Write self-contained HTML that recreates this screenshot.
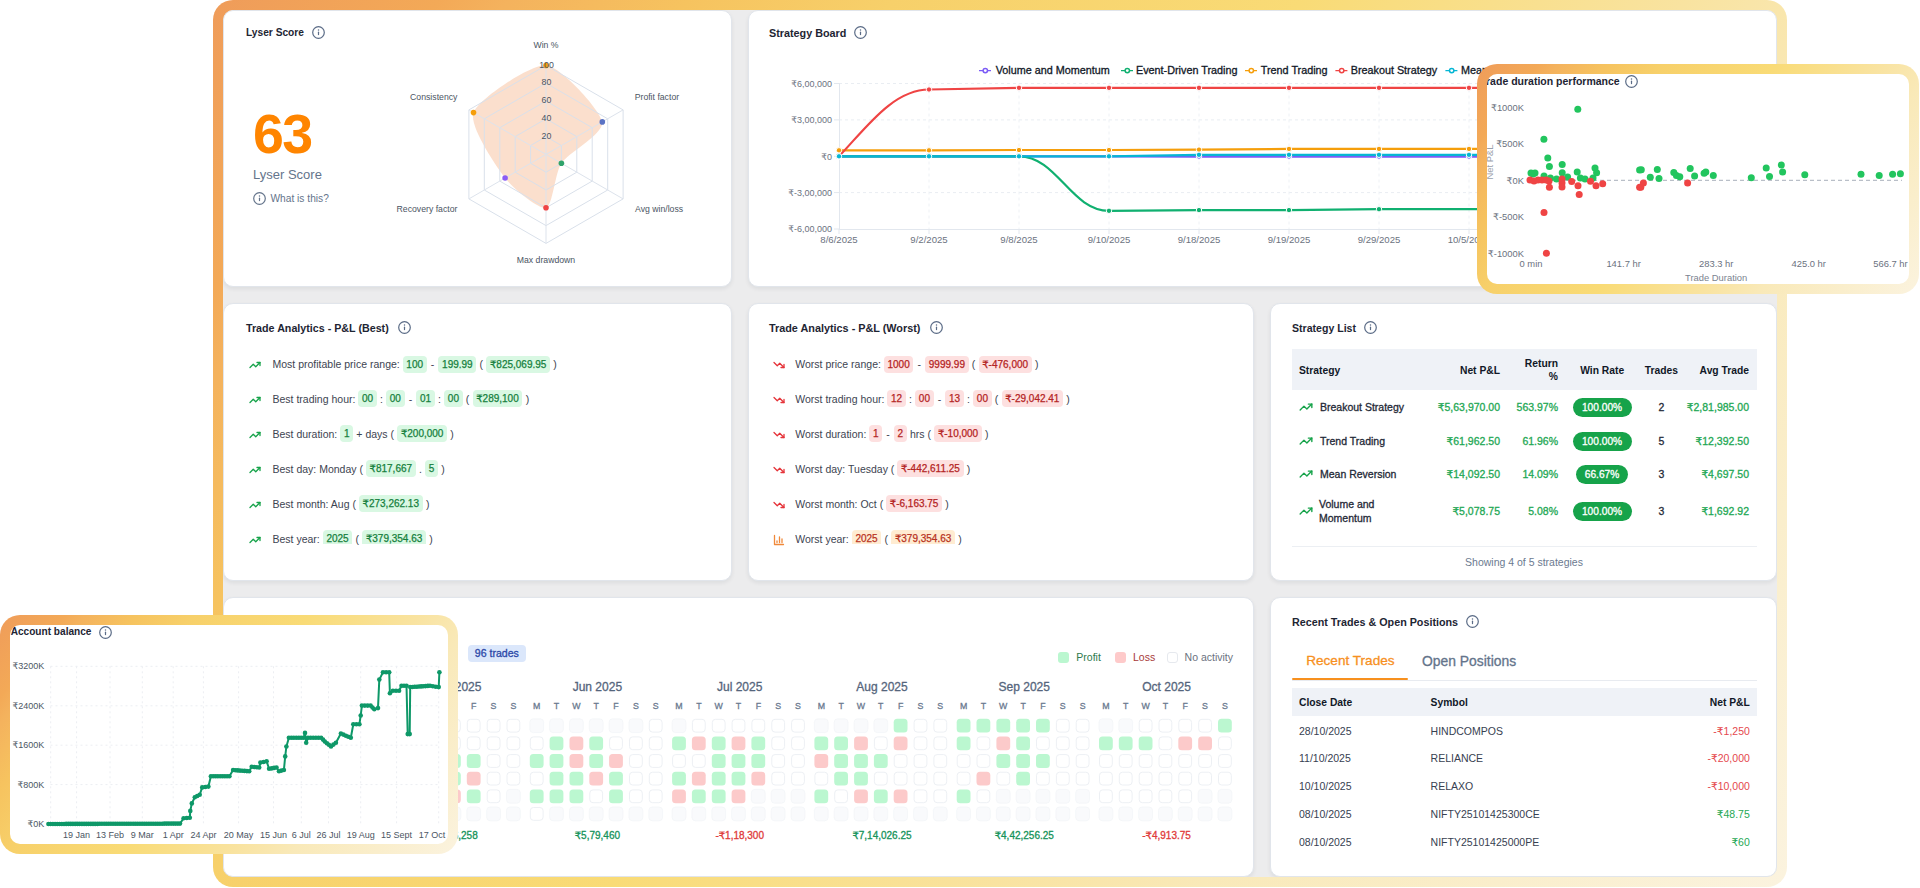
<!DOCTYPE html>
<html><head><meta charset="utf-8"><title>Dashboard</title>
<style>
*{box-sizing:border-box;margin:0;padding:0}
html,body{width:1920px;height:888px;overflow:hidden;background:#fff}
body{position:relative;font-family:"Liberation Sans","DejaVu Sans",sans-serif;color:#374151;font-size:11px}
.frame{position:absolute;left:213px;top:0;width:1574px;height:887px;border-radius:20px;
 background:linear-gradient(128deg,#ef9c5a 0%,#f3a957 10%,#f4b25d 13%,#f6c35f 21%,#f7d06a 30%,#f9db76 48%,#f9e3a0 65%,#f9e9b8 74%,#fbf3df 100%)}
.frame .in{position:absolute;left:10px;top:10px;right:10px;bottom:10px;border-radius:10px;background:#ececed}
.card{position:absolute;background:#fff;border-radius:10px;border:1px solid #e1e5eb;box-shadow:0 2px 4px rgba(20,25,40,.07)}
.ttl{position:absolute;font-weight:700;font-size:11.2px;color:#1e2533;white-space:nowrap;line-height:14px}
.ovl{position:absolute;border-radius:20px;overflow:hidden}
.ovl .in{position:absolute;left:10px;top:10px;right:10px;bottom:10px;background:#fff;border-radius:10px;overflow:hidden}
.t{position:absolute;white-space:nowrap;line-height:14px}
svg{position:absolute;overflow:visible}
.sb{-webkit-text-stroke:0.3px currentColor}
</style></head>
<body>
<div class="frame"><div class="in"></div></div>
<div style="position:absolute;left:223px;top:10px;width:1554px;height:867px;border-radius:10px;overflow:hidden"><div style="position:absolute;left:-223px;top:-10px;width:1920px;height:888px">
<div class="card" id="c-lyser" style="left:223px;top:10px;width:509px;height:277px"></div>
<div class="card" id="c-board" style="left:748px;top:10px;width:1029px;height:277px"></div>
<div class="card" id="c-best" style="left:223px;top:303px;width:509px;height:278px"></div>
<div class="card" id="c-worst" style="left:748px;top:303px;width:506px;height:278px"></div>
<div class="card" id="c-list" style="left:1270px;top:303px;width:507px;height:278px"></div>
<div class="card" id="c-cal" style="left:223px;top:597px;width:1031px;height:280px"></div>
<div class="card" id="c-recent" style="left:1270px;top:597px;width:507px;height:280px"></div>
<div class="ttl" style="left:246px;top:26.0px;font-size:10.2px">Lyser Score</div><svg style="left:312.0px;top:25.8px" width="13" height="13" viewBox="0 0 13 13"><circle cx="6.5" cy="6.5" r="5.8" fill="none" stroke="#5a6b86" stroke-width="1.2"/><circle cx="6.5" cy="4.0" r="0.75" fill="#5a6b86"/><rect x="5.9" y="5.6" width="1.2" height="3.6" rx="0.6" fill="#5a6b86"/></svg>
<div class="t" style="left:253px;top:107.5px;font-size:55.5px;line-height:52px;font-weight:700;color:#ff8500;letter-spacing:-1.6px">63</div>
<div class="t " style="left:253px;top:167.7px;font-size:13px;color:#64748b;font-weight:400;">Lyser Score</div>
<svg style="left:253.1px;top:192.1px" width="13" height="13" viewBox="0 0 13 13"><circle cx="6.5" cy="6.5" r="5.8" fill="none" stroke="#64748b" stroke-width="1.2"/><circle cx="6.5" cy="4.0" r="0.75" fill="#64748b"/><rect x="5.9" y="5.6" width="1.2" height="3.6" rx="0.6" fill="#64748b"/></svg>
<div class="t " style="left:270.5px;top:192.0px;font-size:10.2px;color:#64748b;font-weight:400;">What is this?</div>
<svg style="left:0;top:0" width="1920" height="888"><path d="M546.0,65.4 C561.4,66.5 600.4,110.2 602.3,121.9 C604.1,133.7 568.2,153.0 561.4,163.3 C554.7,173.6 552.8,206.0 546.0,207.8 C539.2,209.6 513.8,189.4 505.1,178.0 C496.5,166.6 468.6,126.1 473.5,112.6 C478.5,99.1 530.6,64.3 546.0,65.4Z" fill="#f29a63" fill-opacity="0.32" stroke="none"/><polygon points="546.0,136.6 561.4,145.5 561.4,163.3 546.0,172.2 530.6,163.3 530.6,145.5" fill="none" stroke="#d9e0ea" stroke-width="1"/><polygon points="546.0,118.8 576.8,136.6 576.8,172.2 546.0,190.0 515.2,172.2 515.2,136.6" fill="none" stroke="#d9e0ea" stroke-width="1"/><polygon points="546.0,101.0 592.2,127.7 592.2,181.1 546.0,207.8 499.8,181.1 499.8,127.7" fill="none" stroke="#d9e0ea" stroke-width="1"/><polygon points="546.0,83.2 607.7,118.8 607.7,190.0 546.0,225.6 484.3,190.0 484.3,118.8" fill="none" stroke="#d9e0ea" stroke-width="1"/><polygon points="546.0,65.4 623.1,109.9 623.1,198.9 546.0,243.4 468.9,198.9 468.9,109.9" fill="none" stroke="#d9e0ea" stroke-width="1"/><line x1="546.0" y1="154.4" x2="546.0" y2="65.4" stroke="#dde3ec" stroke-width="1"/><line x1="546.0" y1="154.4" x2="623.1" y2="109.9" stroke="#dde3ec" stroke-width="1"/><line x1="546.0" y1="154.4" x2="623.1" y2="198.9" stroke="#dde3ec" stroke-width="1"/><line x1="546.0" y1="154.4" x2="546.0" y2="243.4" stroke="#dde3ec" stroke-width="1"/><line x1="546.0" y1="154.4" x2="468.9" y2="198.9" stroke="#dde3ec" stroke-width="1"/><line x1="546.0" y1="154.4" x2="468.9" y2="109.9" stroke="#dde3ec" stroke-width="1"/><circle cx="546.0" cy="65.4" r="2.8" fill="#f59e0b"/><circle cx="602.3" cy="121.9" r="2.8" fill="#5b73c4"/><circle cx="561.4" cy="163.3" r="2.8" fill="#2fa36b"/><circle cx="546.0" cy="207.8" r="2.8" fill="#ef4444"/><circle cx="505.1" cy="178.0" r="2.8" fill="#8b5cf6"/><circle cx="473.5" cy="112.6" r="2.8" fill="#f59e0b"/></svg>
<div class="t " style="left:546.5px;top:57.6px;font-size:8.8px;color:#4b5563;font-weight:400;transform:translateX(-50%);">100</div>
<div class="t " style="left:546.5px;top:75.4px;font-size:8.8px;color:#4b5563;font-weight:400;transform:translateX(-50%);">80</div>
<div class="t " style="left:546.5px;top:93.0px;font-size:8.8px;color:#4b5563;font-weight:400;transform:translateX(-50%);">60</div>
<div class="t " style="left:546.5px;top:110.9px;font-size:8.8px;color:#4b5563;font-weight:400;transform:translateX(-50%);">40</div>
<div class="t " style="left:546.5px;top:128.6px;font-size:8.8px;color:#4b5563;font-weight:400;transform:translateX(-50%);">20</div>
<div class="t " style="left:546px;top:38.4px;font-size:8.7px;color:#4b5563;font-weight:400;transform:translateX(-50%);">Win %</div>
<div class="t " style="left:634.7px;top:89.9px;font-size:8.7px;color:#4b5563;font-weight:400;">Profit factor</div>
<div class="t " style="left:635px;top:202.4px;font-size:8.7px;color:#4b5563;font-weight:400;">Avg win/loss</div>
<div class="t " style="left:546px;top:253.4px;font-size:8.7px;color:#4b5563;font-weight:400;transform:translateX(-50%);">Max drawdown</div>
<div class="t " style="right:1462.6px;top:202.4px;font-size:8.7px;color:#4b5563;font-weight:400;">Recovery factor</div>
<div class="t " style="right:1462.6px;top:89.9px;font-size:8.7px;color:#4b5563;font-weight:400;">Consistency</div>
<div class="ttl" style="left:769px;top:26.0px;font-size:10.81px">Strategy Board</div><svg style="left:854.3px;top:25.8px" width="13" height="13" viewBox="0 0 13 13"><circle cx="6.5" cy="6.5" r="5.8" fill="none" stroke="#5a6b86" stroke-width="1.2"/><circle cx="6.5" cy="4.0" r="0.75" fill="#5a6b86"/><rect x="5.9" y="5.6" width="1.2" height="3.6" rx="0.6" fill="#5a6b86"/></svg>
<svg style="left:0;top:0" width="1920" height="888"><line x1="979" y1="70.6" x2="991" y2="70.6" stroke="#7c5cf6" stroke-width="1.4"/><circle cx="985.3" cy="70.6" r="2.2" fill="#fff" stroke="#7c5cf6" stroke-width="1.5"/><line x1="1121" y1="70.6" x2="1133" y2="70.6" stroke="#10b070" stroke-width="1.4"/><circle cx="1127.3" cy="70.6" r="2.2" fill="#fff" stroke="#10b070" stroke-width="1.5"/><line x1="1245" y1="70.6" x2="1257" y2="70.6" stroke="#f59e0b" stroke-width="1.4"/><circle cx="1251.3" cy="70.6" r="2.2" fill="#fff" stroke="#f59e0b" stroke-width="1.5"/><line x1="1335.4" y1="70.6" x2="1347.4" y2="70.6" stroke="#ef4444" stroke-width="1.4"/><circle cx="1341.7" cy="70.6" r="2.2" fill="#fff" stroke="#ef4444" stroke-width="1.5"/><line x1="1445.4" y1="70.6" x2="1457.4" y2="70.6" stroke="#06b6d4" stroke-width="1.4"/><circle cx="1451.7" cy="70.6" r="2.2" fill="#fff" stroke="#06b6d4" stroke-width="1.5"/><line x1="839" y1="83.5" x2="1777" y2="83.5" stroke="#e9edf2" stroke-width="1" stroke-dasharray="3 3"/><line x1="839" y1="119.9" x2="1777" y2="119.9" stroke="#e9edf2" stroke-width="1" stroke-dasharray="3 3"/><line x1="839" y1="156.3" x2="1777" y2="156.3" stroke="#e9edf2" stroke-width="1" stroke-dasharray="3 3"/><line x1="839" y1="192.6" x2="1777" y2="192.6" stroke="#e9edf2" stroke-width="1" stroke-dasharray="3 3"/><line x1="929" y1="83.5" x2="929" y2="229" stroke="#eef1f5" stroke-width="1" stroke-dasharray="3 3"/><line x1="1019" y1="83.5" x2="1019" y2="229" stroke="#eef1f5" stroke-width="1" stroke-dasharray="3 3"/><line x1="1109" y1="83.5" x2="1109" y2="229" stroke="#eef1f5" stroke-width="1" stroke-dasharray="3 3"/><line x1="1199" y1="83.5" x2="1199" y2="229" stroke="#eef1f5" stroke-width="1" stroke-dasharray="3 3"/><line x1="1289" y1="83.5" x2="1289" y2="229" stroke="#eef1f5" stroke-width="1" stroke-dasharray="3 3"/><line x1="1379" y1="83.5" x2="1379" y2="229" stroke="#eef1f5" stroke-width="1" stroke-dasharray="3 3"/><line x1="1469" y1="83.5" x2="1469" y2="229" stroke="#eef1f5" stroke-width="1" stroke-dasharray="3 3"/><line x1="1559" y1="83.5" x2="1559" y2="229" stroke="#eef1f5" stroke-width="1" stroke-dasharray="3 3"/><line x1="1649" y1="83.5" x2="1649" y2="229" stroke="#eef1f5" stroke-width="1" stroke-dasharray="3 3"/><line x1="1739" y1="83.5" x2="1739" y2="229" stroke="#eef1f5" stroke-width="1" stroke-dasharray="3 3"/><line x1="839.5" y1="83" x2="839.5" y2="229.5" stroke="#e2e7ee" stroke-width="1"/><line x1="839" y1="229.5" x2="1777" y2="229.5" stroke="#e2e7ee" stroke-width="1"/><line x1="834" y1="83.5" x2="839" y2="83.5" stroke="#e2e7ee" stroke-width="1"/><line x1="834" y1="119.9" x2="839" y2="119.9" stroke="#e2e7ee" stroke-width="1"/><line x1="834" y1="156.3" x2="839" y2="156.3" stroke="#e2e7ee" stroke-width="1"/><line x1="834" y1="192.6" x2="839" y2="192.6" stroke="#e2e7ee" stroke-width="1"/><line x1="834" y1="229.0" x2="839" y2="229.0" stroke="#e2e7ee" stroke-width="1"/><line x1="839" y1="229" x2="839" y2="234" stroke="#e2e7ee" stroke-width="1"/><line x1="929" y1="229" x2="929" y2="234" stroke="#e2e7ee" stroke-width="1"/><line x1="1019" y1="229" x2="1019" y2="234" stroke="#e2e7ee" stroke-width="1"/><line x1="1109" y1="229" x2="1109" y2="234" stroke="#e2e7ee" stroke-width="1"/><line x1="1199" y1="229" x2="1199" y2="234" stroke="#e2e7ee" stroke-width="1"/><line x1="1289" y1="229" x2="1289" y2="234" stroke="#e2e7ee" stroke-width="1"/><line x1="1379" y1="229" x2="1379" y2="234" stroke="#e2e7ee" stroke-width="1"/><line x1="1469" y1="229" x2="1469" y2="234" stroke="#e2e7ee" stroke-width="1"/><line x1="1559" y1="229" x2="1559" y2="234" stroke="#e2e7ee" stroke-width="1"/><line x1="1649" y1="229" x2="1649" y2="234" stroke="#e2e7ee" stroke-width="1"/><line x1="1739" y1="229" x2="1739" y2="234" stroke="#e2e7ee" stroke-width="1"/><path d="M839,156.3 L929,156.3 L1019,156.3 L1109,156.3 L1199,156.6 L1289,156.6 L1379,156.6 L1469,156.6 L1559,156.6 L1649,156.6 L1739,156.6" fill="none" stroke="#7c5cf6" stroke-width="2.2" stroke-linejoin="round"/><circle cx="839" cy="156.3" r="2.7" fill="#7c5cf6" stroke="#fff" stroke-width="1"/><circle cx="929" cy="156.3" r="2.7" fill="#7c5cf6" stroke="#fff" stroke-width="1"/><circle cx="1019" cy="156.3" r="2.7" fill="#7c5cf6" stroke="#fff" stroke-width="1"/><circle cx="1109" cy="156.3" r="2.7" fill="#7c5cf6" stroke="#fff" stroke-width="1"/><circle cx="1199" cy="156.6" r="2.7" fill="#7c5cf6" stroke="#fff" stroke-width="1"/><circle cx="1289" cy="156.6" r="2.7" fill="#7c5cf6" stroke="#fff" stroke-width="1"/><circle cx="1379" cy="156.6" r="2.7" fill="#7c5cf6" stroke="#fff" stroke-width="1"/><circle cx="1469" cy="156.6" r="2.7" fill="#7c5cf6" stroke="#fff" stroke-width="1"/><circle cx="1559" cy="156.6" r="2.7" fill="#7c5cf6" stroke="#fff" stroke-width="1"/><circle cx="1649" cy="156.6" r="2.7" fill="#7c5cf6" stroke="#fff" stroke-width="1"/><circle cx="1739" cy="156.6" r="2.7" fill="#7c5cf6" stroke="#fff" stroke-width="1"/><path d="M839,156.3 L929,156.3 L1019,156.3 C1057,156.3 1071,210.8 1109,210.8 L1199,210.1 L1289,210.1 L1379,209.2 L1559,209.2 L1649,209.2 L1739,209.2" fill="none" stroke="#10b070" stroke-width="2.2" stroke-linejoin="round"/><circle cx="839" cy="156.3" r="2.7" fill="#10b070" stroke="#fff" stroke-width="1"/><circle cx="929" cy="156.3" r="2.7" fill="#10b070" stroke="#fff" stroke-width="1"/><circle cx="1019" cy="156.3" r="2.7" fill="#10b070" stroke="#fff" stroke-width="1"/><circle cx="1109" cy="210.8" r="2.7" fill="#10b070" stroke="#fff" stroke-width="1"/><circle cx="1199" cy="210.1" r="2.7" fill="#10b070" stroke="#fff" stroke-width="1"/><circle cx="1289" cy="210.1" r="2.7" fill="#10b070" stroke="#fff" stroke-width="1"/><circle cx="1379" cy="209.2" r="2.7" fill="#10b070" stroke="#fff" stroke-width="1"/><circle cx="1559" cy="209.2" r="2.7" fill="#10b070" stroke="#fff" stroke-width="1"/><circle cx="1649" cy="209.2" r="2.7" fill="#10b070" stroke="#fff" stroke-width="1"/><circle cx="1739" cy="209.2" r="2.7" fill="#10b070" stroke="#fff" stroke-width="1"/><path d="M839,150.3 L929,150.3 L1019,150.0 L1109,150.0 L1199,149.6 L1289,148.9 L1379,148.9 L1469,148.9 L1559,148.9 L1649,148.9 L1739,148.9" fill="none" stroke="#f59e0b" stroke-width="2.2" stroke-linejoin="round"/><circle cx="839" cy="150.3" r="2.7" fill="#f59e0b" stroke="#fff" stroke-width="1"/><circle cx="929" cy="150.3" r="2.7" fill="#f59e0b" stroke="#fff" stroke-width="1"/><circle cx="1019" cy="150.0" r="2.7" fill="#f59e0b" stroke="#fff" stroke-width="1"/><circle cx="1109" cy="150.0" r="2.7" fill="#f59e0b" stroke="#fff" stroke-width="1"/><circle cx="1199" cy="149.6" r="2.7" fill="#f59e0b" stroke="#fff" stroke-width="1"/><circle cx="1289" cy="148.9" r="2.7" fill="#f59e0b" stroke="#fff" stroke-width="1"/><circle cx="1379" cy="148.9" r="2.7" fill="#f59e0b" stroke="#fff" stroke-width="1"/><circle cx="1469" cy="148.9" r="2.7" fill="#f59e0b" stroke="#fff" stroke-width="1"/><circle cx="1559" cy="148.9" r="2.7" fill="#f59e0b" stroke="#fff" stroke-width="1"/><circle cx="1649" cy="148.9" r="2.7" fill="#f59e0b" stroke="#fff" stroke-width="1"/><circle cx="1739" cy="148.9" r="2.7" fill="#f59e0b" stroke="#fff" stroke-width="1"/><path d="M839,156.3 C866,128 893,89.5 929,89.5 L1019,87.8 L1109,87.8 L1199,87.8 L1289,87.8 L1379,87.8 L1469,87.8 L1559,87.8 L1649,87.8 L1739,87.8" fill="none" stroke="#ef4444" stroke-width="2.2"/><circle cx="839" cy="156.3" r="2.7" fill="#ef4444" stroke="#fff" stroke-width="1"/><circle cx="929" cy="89.5" r="2.7" fill="#ef4444" stroke="#fff" stroke-width="1"/><circle cx="1019" cy="87.8" r="2.7" fill="#ef4444" stroke="#fff" stroke-width="1"/><circle cx="1109" cy="87.8" r="2.7" fill="#ef4444" stroke="#fff" stroke-width="1"/><circle cx="1199" cy="87.8" r="2.7" fill="#ef4444" stroke="#fff" stroke-width="1"/><circle cx="1289" cy="87.8" r="2.7" fill="#ef4444" stroke="#fff" stroke-width="1"/><circle cx="1379" cy="87.8" r="2.7" fill="#ef4444" stroke="#fff" stroke-width="1"/><circle cx="1469" cy="87.8" r="2.7" fill="#ef4444" stroke="#fff" stroke-width="1"/><circle cx="1559" cy="87.8" r="2.7" fill="#ef4444" stroke="#fff" stroke-width="1"/><circle cx="1649" cy="87.8" r="2.7" fill="#ef4444" stroke="#fff" stroke-width="1"/><circle cx="1739" cy="87.8" r="2.7" fill="#ef4444" stroke="#fff" stroke-width="1"/><path d="M839,156.3 L929,156.3 L1019,156.3 L1109,156.3 L1199,154.8 L1289,154.8 L1379,154.8 L1469,154.8 L1559,154.8 L1649,154.8 L1739,154.8" fill="none" stroke="#06b6d4" stroke-width="2.2" stroke-linejoin="round"/><circle cx="839" cy="156.3" r="2.7" fill="#06b6d4" stroke="#fff" stroke-width="1"/><circle cx="929" cy="156.3" r="2.7" fill="#06b6d4" stroke="#fff" stroke-width="1"/><circle cx="1019" cy="156.3" r="2.7" fill="#06b6d4" stroke="#fff" stroke-width="1"/><circle cx="1109" cy="156.3" r="2.7" fill="#06b6d4" stroke="#fff" stroke-width="1"/><circle cx="1199" cy="154.8" r="2.7" fill="#06b6d4" stroke="#fff" stroke-width="1"/><circle cx="1289" cy="154.8" r="2.7" fill="#06b6d4" stroke="#fff" stroke-width="1"/><circle cx="1379" cy="154.8" r="2.7" fill="#06b6d4" stroke="#fff" stroke-width="1"/><circle cx="1469" cy="154.8" r="2.7" fill="#06b6d4" stroke="#fff" stroke-width="1"/><circle cx="1559" cy="154.8" r="2.7" fill="#06b6d4" stroke="#fff" stroke-width="1"/><circle cx="1649" cy="154.8" r="2.7" fill="#06b6d4" stroke="#fff" stroke-width="1"/><circle cx="1739" cy="154.8" r="2.7" fill="#06b6d4" stroke="#fff" stroke-width="1"/></svg>
<div class="t sb" style="left:995.7px;top:63.0px;font-size:10.8px;color:#111827;font-weight:400;">Volume and Momentum</div>
<div class="t sb" style="left:1136px;top:63.0px;font-size:10.8px;color:#111827;font-weight:400;">Event-Driven Trading</div>
<div class="t sb" style="left:1260.8px;top:63.0px;font-size:10.8px;color:#111827;font-weight:400;">Trend Trading</div>
<div class="t sb" style="left:1350.7px;top:63.0px;font-size:10.8px;color:#111827;font-weight:400;">Breakout Strategy</div>
<div class="t sb" style="left:1461px;top:63.0px;font-size:10.8px;color:#111827;font-weight:400;">Mean Reversion</div>
<div class="t " style="right:1088px;top:76.7px;font-size:9.0px;color:#6b7280;font-weight:400;">₹6,00,000</div>
<div class="t " style="right:1088px;top:113.1px;font-size:9.0px;color:#6b7280;font-weight:400;">₹3,00,000</div>
<div class="t " style="right:1088px;top:149.5px;font-size:9.0px;color:#6b7280;font-weight:400;">₹0</div>
<div class="t " style="right:1088px;top:185.8px;font-size:9.0px;color:#6b7280;font-weight:400;">₹-3,00,000</div>
<div class="t " style="right:1088px;top:222.2px;font-size:9.0px;color:#6b7280;font-weight:400;">₹-6,00,000</div>
<div class="t " style="left:839px;top:233.2px;font-size:9.6px;color:#6b7280;font-weight:400;transform:translateX(-50%);">8/6/2025</div>
<div class="t " style="left:929px;top:233.2px;font-size:9.6px;color:#6b7280;font-weight:400;transform:translateX(-50%);">9/2/2025</div>
<div class="t " style="left:1019px;top:233.2px;font-size:9.6px;color:#6b7280;font-weight:400;transform:translateX(-50%);">9/8/2025</div>
<div class="t " style="left:1109px;top:233.2px;font-size:9.6px;color:#6b7280;font-weight:400;transform:translateX(-50%);">9/10/2025</div>
<div class="t " style="left:1199px;top:233.2px;font-size:9.6px;color:#6b7280;font-weight:400;transform:translateX(-50%);">9/18/2025</div>
<div class="t " style="left:1289px;top:233.2px;font-size:9.6px;color:#6b7280;font-weight:400;transform:translateX(-50%);">9/19/2025</div>
<div class="t " style="left:1379px;top:233.2px;font-size:9.6px;color:#6b7280;font-weight:400;transform:translateX(-50%);">9/29/2025</div>
<div class="t " style="left:1469px;top:233.2px;font-size:9.6px;color:#6b7280;font-weight:400;transform:translateX(-50%);">10/5/2025</div>
<div class="t " style="left:1559px;top:233.2px;font-size:9.6px;color:#6b7280;font-weight:400;transform:translateX(-50%);">10/8/2025</div>
<div class="t " style="left:1649px;top:233.2px;font-size:9.6px;color:#6b7280;font-weight:400;transform:translateX(-50%);">10/13/2025</div>
<div class="ttl" style="left:246px;top:321.0px;font-size:10.71px">Trade Analytics - P&amp;L (Best)</div><svg style="left:397.7px;top:320.8px" width="13" height="13" viewBox="0 0 13 13"><circle cx="6.5" cy="6.5" r="5.8" fill="none" stroke="#5a6b86" stroke-width="1.2"/><circle cx="6.5" cy="4.0" r="0.75" fill="#5a6b86"/><rect x="5.9" y="5.6" width="1.2" height="3.6" rx="0.6" fill="#5a6b86"/></svg>
<svg style="left:249.3px;top:359.1px" width="12" height="12" viewBox="0 0 24 24" fill="none" stroke="#16a34a" stroke-width="2.6" stroke-linecap="round" stroke-linejoin="round"><polyline points="22 7 13.5 15.5 8.5 10.5 2 17"/><polyline points="16 7 22 7 22 13"/></svg>
<div style="position:absolute;display:flex;align-items:center;white-space:nowrap;font-size:10.5px;color:#3d4451;height:18px;left:272.5px;top:355.0px">Most profitable price range:<span style="margin:0 1.5px 0 1.5px"></span><span style="display:inline-block;background:#d9f8e3;color:#15803d;height:17px;border-radius:4px;padding:0 3.6px;line-height:18px;font-size:10px;-webkit-text-stroke:0.25px #15803d">100</span><span style="margin:0 4.2px 0 4.2px">-</span><span style="display:inline-block;background:#d9f8e3;color:#15803d;height:17px;border-radius:4px;padding:0 3.6px;line-height:18px;font-size:10px;-webkit-text-stroke:0.25px #15803d">199.99</span><span style="margin:0 3.3px 0 3.3px">(</span><span style="display:inline-block;background:#d9f8e3;color:#15803d;height:17px;border-radius:4px;padding:0 3.6px;line-height:18px;font-size:10px;-webkit-text-stroke:0.25px #15803d">₹825,069.95</span><span style="margin:0 0px 0 3.3px">)</span></div>
<svg style="left:249.3px;top:394.0px" width="12" height="12" viewBox="0 0 24 24" fill="none" stroke="#16a34a" stroke-width="2.6" stroke-linecap="round" stroke-linejoin="round"><polyline points="22 7 13.5 15.5 8.5 10.5 2 17"/><polyline points="16 7 22 7 22 13"/></svg>
<div style="position:absolute;display:flex;align-items:center;white-space:nowrap;font-size:10.5px;color:#3d4451;height:18px;left:272.5px;top:389.9px">Best trading hour:<span style="margin:0 1.5px 0 1.5px"></span><span style="display:inline-block;background:#d9f8e3;color:#15803d;height:17px;border-radius:4px;padding:0 3.6px;line-height:18px;font-size:10px;-webkit-text-stroke:0.25px #15803d">00</span><span style="margin:0 3.3px 0 3.3px">:</span><span style="display:inline-block;background:#d9f8e3;color:#15803d;height:17px;border-radius:4px;padding:0 3.6px;line-height:18px;font-size:10px;-webkit-text-stroke:0.25px #15803d">00</span><span style="margin:0 4.2px 0 4.2px">-</span><span style="display:inline-block;background:#d9f8e3;color:#15803d;height:17px;border-radius:4px;padding:0 3.6px;line-height:18px;font-size:10px;-webkit-text-stroke:0.25px #15803d">01</span><span style="margin:0 3.3px 0 3.3px">:</span><span style="display:inline-block;background:#d9f8e3;color:#15803d;height:17px;border-radius:4px;padding:0 3.6px;line-height:18px;font-size:10px;-webkit-text-stroke:0.25px #15803d">00</span><span style="margin:0 3.3px 0 3.3px">(</span><span style="display:inline-block;background:#d9f8e3;color:#15803d;height:17px;border-radius:4px;padding:0 3.6px;line-height:18px;font-size:10px;-webkit-text-stroke:0.25px #15803d">₹289,100</span><span style="margin:0 0px 0 3.3px">)</span></div>
<svg style="left:249.3px;top:429.0px" width="12" height="12" viewBox="0 0 24 24" fill="none" stroke="#16a34a" stroke-width="2.6" stroke-linecap="round" stroke-linejoin="round"><polyline points="22 7 13.5 15.5 8.5 10.5 2 17"/><polyline points="16 7 22 7 22 13"/></svg>
<div style="position:absolute;display:flex;align-items:center;white-space:nowrap;font-size:10.5px;color:#3d4451;height:18px;left:272.5px;top:424.9px">Best duration:<span style="margin:0 1.5px 0 1.5px"></span><span style="display:inline-block;background:#d9f8e3;color:#15803d;height:17px;border-radius:4px;padding:0 3.6px;line-height:18px;font-size:10px;-webkit-text-stroke:0.25px #15803d">1</span><span style="margin:0 3.3px 0 3.3px">+ days (</span><span style="display:inline-block;background:#d9f8e3;color:#15803d;height:17px;border-radius:4px;padding:0 3.6px;line-height:18px;font-size:10px;-webkit-text-stroke:0.25px #15803d">₹200,000</span><span style="margin:0 0px 0 3.3px">)</span></div>
<svg style="left:249.3px;top:463.9px" width="12" height="12" viewBox="0 0 24 24" fill="none" stroke="#16a34a" stroke-width="2.6" stroke-linecap="round" stroke-linejoin="round"><polyline points="22 7 13.5 15.5 8.5 10.5 2 17"/><polyline points="16 7 22 7 22 13"/></svg>
<div style="position:absolute;display:flex;align-items:center;white-space:nowrap;font-size:10.5px;color:#3d4451;height:18px;left:272.5px;top:459.8px">Best day: Monday (<span style="margin:0 1.5px 0 1.5px"></span><span style="display:inline-block;background:#d9f8e3;color:#15803d;height:17px;border-radius:4px;padding:0 3.6px;line-height:18px;font-size:10px;-webkit-text-stroke:0.25px #15803d">₹817,667</span><span style="margin:0 3.3px 0 3.3px">.</span><span style="display:inline-block;background:#d9f8e3;color:#15803d;height:17px;border-radius:4px;padding:0 3.6px;line-height:18px;font-size:10px;-webkit-text-stroke:0.25px #15803d">5</span><span style="margin:0 0px 0 3.3px">)</span></div>
<svg style="left:249.3px;top:499.0px" width="12" height="12" viewBox="0 0 24 24" fill="none" stroke="#16a34a" stroke-width="2.6" stroke-linecap="round" stroke-linejoin="round"><polyline points="22 7 13.5 15.5 8.5 10.5 2 17"/><polyline points="16 7 22 7 22 13"/></svg>
<div style="position:absolute;display:flex;align-items:center;white-space:nowrap;font-size:10.5px;color:#3d4451;height:18px;left:272.5px;top:494.9px">Best month: Aug (<span style="margin:0 1.5px 0 1.5px"></span><span style="display:inline-block;background:#d9f8e3;color:#15803d;height:17px;border-radius:4px;padding:0 3.6px;line-height:18px;font-size:10px;-webkit-text-stroke:0.25px #15803d">₹273,262.13</span><span style="margin:0 0px 0 3.3px">)</span></div>
<svg style="left:249.3px;top:534.2px" width="12" height="12" viewBox="0 0 24 24" fill="none" stroke="#16a34a" stroke-width="2.6" stroke-linecap="round" stroke-linejoin="round"><polyline points="22 7 13.5 15.5 8.5 10.5 2 17"/><polyline points="16 7 22 7 22 13"/></svg>
<div style="position:absolute;display:flex;align-items:center;white-space:nowrap;font-size:10.5px;color:#3d4451;height:18px;left:272.5px;top:530.1px">Best year:<span style="margin:0 1.5px 0 1.5px"></span><span style="display:inline-block;background:#d9f8e3;color:#15803d;height:13.6px;border-radius:4px 4px 0 0;align-self:flex-start;margin-top:0.4px;padding:0 3.6px;line-height:18px;font-size:10px;-webkit-text-stroke:0.25px #15803d">2025</span><span style="margin:0 3.3px 0 3.3px">(</span><span style="display:inline-block;background:#d9f8e3;color:#15803d;height:13.6px;border-radius:4px 4px 0 0;align-self:flex-start;margin-top:0.4px;padding:0 3.6px;line-height:18px;font-size:10px;-webkit-text-stroke:0.25px #15803d">₹379,354.63</span><span style="margin:0 0px 0 3.3px">)</span></div>
<div class="ttl" style="left:769px;top:321.0px;font-size:10.83px">Trade Analytics - P&amp;L (Worst)</div><svg style="left:930.0px;top:320.8px" width="13" height="13" viewBox="0 0 13 13"><circle cx="6.5" cy="6.5" r="5.8" fill="none" stroke="#5a6b86" stroke-width="1.2"/><circle cx="6.5" cy="4.0" r="0.75" fill="#5a6b86"/><rect x="5.9" y="5.6" width="1.2" height="3.6" rx="0.6" fill="#5a6b86"/></svg>
<svg style="left:772.5px;top:358.9px" width="12" height="12" viewBox="0 0 24 24" fill="none" stroke="#e5343a" stroke-width="2.6" stroke-linecap="round" stroke-linejoin="round"><polyline points="22 17 13.5 8.5 8.5 13.5 2 7"/><polyline points="16 17 22 17 22 11"/></svg>
<div style="position:absolute;display:flex;align-items:center;white-space:nowrap;font-size:10.5px;color:#3d4451;height:18px;left:795.3px;top:355.0px">Worst price range:<span style="margin:0 1.5px 0 1.5px"></span><span style="display:inline-block;background:#fde0e0;color:#b42323;height:17px;border-radius:4px;padding:0 3.6px;line-height:18px;font-size:10px;-webkit-text-stroke:0.25px #b42323">1000</span><span style="margin:0 4.2px 0 4.2px">-</span><span style="display:inline-block;background:#fde0e0;color:#b42323;height:17px;border-radius:4px;padding:0 3.6px;line-height:18px;font-size:10px;-webkit-text-stroke:0.25px #b42323">9999.99</span><span style="margin:0 3.3px 0 3.3px">(</span><span style="display:inline-block;background:#fde0e0;color:#b42323;height:17px;border-radius:4px;padding:0 3.6px;line-height:18px;font-size:10px;-webkit-text-stroke:0.25px #b42323">₹-476,000</span><span style="margin:0 0px 0 3.3px">)</span></div>
<svg style="left:772.5px;top:393.8px" width="12" height="12" viewBox="0 0 24 24" fill="none" stroke="#e5343a" stroke-width="2.6" stroke-linecap="round" stroke-linejoin="round"><polyline points="22 17 13.5 8.5 8.5 13.5 2 7"/><polyline points="16 17 22 17 22 11"/></svg>
<div style="position:absolute;display:flex;align-items:center;white-space:nowrap;font-size:10.5px;color:#3d4451;height:18px;left:795.3px;top:389.9px">Worst trading hour:<span style="margin:0 1.5px 0 1.5px"></span><span style="display:inline-block;background:#fde0e0;color:#b42323;height:17px;border-radius:4px;padding:0 3.6px;line-height:18px;font-size:10px;-webkit-text-stroke:0.25px #b42323">12</span><span style="margin:0 3.3px 0 3.3px">:</span><span style="display:inline-block;background:#fde0e0;color:#b42323;height:17px;border-radius:4px;padding:0 3.6px;line-height:18px;font-size:10px;-webkit-text-stroke:0.25px #b42323">00</span><span style="margin:0 4.2px 0 4.2px">-</span><span style="display:inline-block;background:#fde0e0;color:#b42323;height:17px;border-radius:4px;padding:0 3.6px;line-height:18px;font-size:10px;-webkit-text-stroke:0.25px #b42323">13</span><span style="margin:0 3.3px 0 3.3px">:</span><span style="display:inline-block;background:#fde0e0;color:#b42323;height:17px;border-radius:4px;padding:0 3.6px;line-height:18px;font-size:10px;-webkit-text-stroke:0.25px #b42323">00</span><span style="margin:0 3.3px 0 3.3px">(</span><span style="display:inline-block;background:#fde0e0;color:#b42323;height:17px;border-radius:4px;padding:0 3.6px;line-height:18px;font-size:10px;-webkit-text-stroke:0.25px #b42323">₹-29,042.41</span><span style="margin:0 0px 0 3.3px">)</span></div>
<svg style="left:772.5px;top:428.8px" width="12" height="12" viewBox="0 0 24 24" fill="none" stroke="#e5343a" stroke-width="2.6" stroke-linecap="round" stroke-linejoin="round"><polyline points="22 17 13.5 8.5 8.5 13.5 2 7"/><polyline points="16 17 22 17 22 11"/></svg>
<div style="position:absolute;display:flex;align-items:center;white-space:nowrap;font-size:10.5px;color:#3d4451;height:18px;left:795.3px;top:424.9px">Worst duration:<span style="margin:0 1.5px 0 1.5px"></span><span style="display:inline-block;background:#fde0e0;color:#b42323;height:17px;border-radius:4px;padding:0 3.6px;line-height:18px;font-size:10px;-webkit-text-stroke:0.25px #b42323">1</span><span style="margin:0 4.2px 0 4.2px">-</span><span style="display:inline-block;background:#fde0e0;color:#b42323;height:17px;border-radius:4px;padding:0 3.6px;line-height:18px;font-size:10px;-webkit-text-stroke:0.25px #b42323">2</span><span style="margin:0 3.3px 0 3.3px">hrs (</span><span style="display:inline-block;background:#fde0e0;color:#b42323;height:17px;border-radius:4px;padding:0 3.6px;line-height:18px;font-size:10px;-webkit-text-stroke:0.25px #b42323">₹-10,000</span><span style="margin:0 0px 0 3.3px">)</span></div>
<svg style="left:772.5px;top:463.7px" width="12" height="12" viewBox="0 0 24 24" fill="none" stroke="#e5343a" stroke-width="2.6" stroke-linecap="round" stroke-linejoin="round"><polyline points="22 17 13.5 8.5 8.5 13.5 2 7"/><polyline points="16 17 22 17 22 11"/></svg>
<div style="position:absolute;display:flex;align-items:center;white-space:nowrap;font-size:10.5px;color:#3d4451;height:18px;left:795.3px;top:459.8px">Worst day: Tuesday (<span style="margin:0 1.5px 0 1.5px"></span><span style="display:inline-block;background:#fde0e0;color:#b42323;height:17px;border-radius:4px;padding:0 3.6px;line-height:18px;font-size:10px;-webkit-text-stroke:0.25px #b42323">₹-442,611.25</span><span style="margin:0 0px 0 3.3px">)</span></div>
<svg style="left:772.5px;top:498.8px" width="12" height="12" viewBox="0 0 24 24" fill="none" stroke="#e5343a" stroke-width="2.6" stroke-linecap="round" stroke-linejoin="round"><polyline points="22 17 13.5 8.5 8.5 13.5 2 7"/><polyline points="16 17 22 17 22 11"/></svg>
<div style="position:absolute;display:flex;align-items:center;white-space:nowrap;font-size:10.5px;color:#3d4451;height:18px;left:795.3px;top:494.9px">Worst month: Oct (<span style="margin:0 1.5px 0 1.5px"></span><span style="display:inline-block;background:#fde0e0;color:#b42323;height:17px;border-radius:4px;padding:0 3.6px;line-height:18px;font-size:10px;-webkit-text-stroke:0.25px #b42323">₹-6,163.75</span><span style="margin:0 0px 0 3.3px">)</span></div>
<svg style="left:772.5px;top:534.0px" width="12" height="12" viewBox="0 0 24 24" fill="none" stroke="#f0893a" stroke-width="2.6" stroke-linecap="round" stroke-linejoin="round"><path d="M3 3v18h18"/><path d="M18 17V10"/><path d="M13 17V6"/><path d="M8 17v-3"/></svg>
<div style="position:absolute;display:flex;align-items:center;white-space:nowrap;font-size:10.5px;color:#3d4451;height:18px;left:795.3px;top:530.1px">Worst year:<span style="margin:0 1.5px 0 1.5px"></span><span style="display:inline-block;background:#ffecd2;color:#b8321f;height:13.6px;border-radius:4px 4px 0 0;align-self:flex-start;margin-top:0.4px;padding:0 3.6px;line-height:18px;font-size:10px;-webkit-text-stroke:0.25px #b8321f">2025</span><span style="margin:0 3.3px 0 3.3px">(</span><span style="display:inline-block;background:#ffecd2;color:#b8321f;height:13.6px;border-radius:4px 4px 0 0;align-self:flex-start;margin-top:0.4px;padding:0 3.6px;line-height:18px;font-size:10px;-webkit-text-stroke:0.25px #b8321f">₹379,354.63</span><span style="margin:0 0px 0 3.3px">)</span></div>
<div class="ttl" style="left:1292px;top:321.0px;font-size:10.57px">Strategy List</div><svg style="left:1363.6px;top:320.8px" width="13" height="13" viewBox="0 0 13 13"><circle cx="6.5" cy="6.5" r="5.8" fill="none" stroke="#5a6b86" stroke-width="1.2"/><circle cx="6.5" cy="4.0" r="0.75" fill="#5a6b86"/><rect x="5.9" y="5.6" width="1.2" height="3.6" rx="0.6" fill="#5a6b86"/></svg>
<div style="position:absolute;left:1291.5px;top:348.5px;width:465.5px;height:41.5px;background:#eff2f7"></div>
<div class="t " style="left:1299px;top:363.8px;font-size:10.3px;color:#111827;font-weight:700;">Strategy</div>
<div class="t " style="right:420px;top:363.8px;font-size:10.3px;color:#111827;font-weight:700;">Net P&amp;L</div>
<div class="t " style="right:362px;top:356.8px;font-size:10.3px;color:#111827;font-weight:700;">Return</div>
<div class="t " style="right:362px;top:370.3px;font-size:10.3px;color:#111827;font-weight:700;">%</div>
<div class="t " style="left:1602.2px;top:363.8px;font-size:10.3px;color:#111827;font-weight:700;transform:translateX(-50%);">Win Rate</div>
<div class="t " style="left:1661.4px;top:363.8px;font-size:10.3px;color:#111827;font-weight:700;transform:translateX(-50%);">Trades</div>
<div class="t " style="right:171px;top:363.8px;font-size:10.3px;color:#111827;font-weight:700;">Avg Trade</div>
<svg style="left:1298.5px;top:400.1px" width="14" height="14" viewBox="0 0 24 24" fill="none" stroke="#16a34a" stroke-width="2.4" stroke-linecap="round" stroke-linejoin="round"><polyline points="22 7 13.5 15.5 8.5 10.5 2 17"/><polyline points="16 7 22 7 22 13"/></svg>
<div class="t sb" style="left:1320px;top:400.0px;font-size:10.5px;color:#1f2937;font-weight:400;">Breakout Strategy</div>
<div class="t sb" style="right:420px;top:400.0px;font-size:10.5px;color:#1fa855;font-weight:400;">₹5,63,970.00</div>
<div class="t sb" style="right:362px;top:400.0px;font-size:10.5px;color:#1fa855;font-weight:400;">563.97%</div>
<div style="position:absolute;left:1572.5px;top:398.1px;width:59px;height:19px;border-radius:10px;background:#16a34a;color:#fff;font-size:10.2px;line-height:20px;text-align:center;-webkit-text-stroke:0.3px #fff">100.00%</div>
<div class="t sb" style="left:1661.4px;top:400.0px;font-size:10.5px;color:#1f2937;font-weight:400;transform:translateX(-50%);">2</div>
<div class="t sb" style="right:171px;top:400.0px;font-size:10.5px;color:#1fa855;font-weight:400;">₹2,81,985.00</div>
<svg style="left:1298.5px;top:433.7px" width="14" height="14" viewBox="0 0 24 24" fill="none" stroke="#16a34a" stroke-width="2.4" stroke-linecap="round" stroke-linejoin="round"><polyline points="22 7 13.5 15.5 8.5 10.5 2 17"/><polyline points="16 7 22 7 22 13"/></svg>
<div class="t sb" style="left:1320px;top:433.6px;font-size:10.5px;color:#1f2937;font-weight:400;">Trend Trading</div>
<div class="t sb" style="right:420px;top:433.6px;font-size:10.5px;color:#1fa855;font-weight:400;">₹61,962.50</div>
<div class="t sb" style="right:362px;top:433.6px;font-size:10.5px;color:#1fa855;font-weight:400;">61.96%</div>
<div style="position:absolute;left:1572.5px;top:431.7px;width:59px;height:19px;border-radius:10px;background:#16a34a;color:#fff;font-size:10.2px;line-height:20px;text-align:center;-webkit-text-stroke:0.3px #fff">100.00%</div>
<div class="t sb" style="left:1661.4px;top:433.6px;font-size:10.5px;color:#1f2937;font-weight:400;transform:translateX(-50%);">5</div>
<div class="t sb" style="right:171px;top:433.6px;font-size:10.5px;color:#1fa855;font-weight:400;">₹12,392.50</div>
<svg style="left:1298.5px;top:466.8px" width="14" height="14" viewBox="0 0 24 24" fill="none" stroke="#16a34a" stroke-width="2.4" stroke-linecap="round" stroke-linejoin="round"><polyline points="22 7 13.5 15.5 8.5 10.5 2 17"/><polyline points="16 7 22 7 22 13"/></svg>
<div class="t sb" style="left:1320px;top:466.7px;font-size:10.5px;color:#1f2937;font-weight:400;">Mean Reversion</div>
<div class="t sb" style="right:420px;top:466.7px;font-size:10.5px;color:#1fa855;font-weight:400;">₹14,092.50</div>
<div class="t sb" style="right:362px;top:466.7px;font-size:10.5px;color:#1fa855;font-weight:400;">14.09%</div>
<div style="position:absolute;left:1576.0px;top:464.8px;width:52px;height:19px;border-radius:10px;background:#16a34a;color:#fff;font-size:10.2px;line-height:20px;text-align:center;-webkit-text-stroke:0.3px #fff">66.67%</div>
<div class="t sb" style="left:1661.4px;top:466.7px;font-size:10.5px;color:#1f2937;font-weight:400;transform:translateX(-50%);">3</div>
<div class="t sb" style="right:171px;top:466.7px;font-size:10.5px;color:#1fa855;font-weight:400;">₹4,697.50</div>
<svg style="left:1298.5px;top:504.4px" width="14" height="14" viewBox="0 0 24 24" fill="none" stroke="#16a34a" stroke-width="2.4" stroke-linecap="round" stroke-linejoin="round"><polyline points="22 7 13.5 15.5 8.5 10.5 2 17"/><polyline points="16 7 22 7 22 13"/></svg>
<div class="t sb" style="left:1319px;top:497.3px;font-size:10.5px;color:#1f2937;font-weight:400;">Volume and</div>
<div class="t sb" style="left:1319px;top:511.3px;font-size:10.5px;color:#1f2937;font-weight:400;">Momentum</div>
<div class="t sb" style="right:420px;top:504.3px;font-size:10.5px;color:#1fa855;font-weight:400;">₹5,078.75</div>
<div class="t sb" style="right:362px;top:504.3px;font-size:10.5px;color:#1fa855;font-weight:400;">5.08%</div>
<div style="position:absolute;left:1572.5px;top:502.4px;width:59px;height:19px;border-radius:10px;background:#16a34a;color:#fff;font-size:10.2px;line-height:20px;text-align:center;-webkit-text-stroke:0.3px #fff">100.00%</div>
<div class="t sb" style="left:1661.4px;top:504.3px;font-size:10.5px;color:#1f2937;font-weight:400;transform:translateX(-50%);">3</div>
<div class="t sb" style="right:171px;top:504.3px;font-size:10.5px;color:#1fa855;font-weight:400;">₹1,692.92</div>
<div style="position:absolute;left:1291.5px;top:546px;width:465.5px;height:1px;background:#eceff3"></div>
<div class="t " style="left:1524px;top:554.7px;font-size:10.5px;color:#6b7a90;font-weight:400;transform:translateX(-50%);">Showing 4 of 5 strategies</div>
<div class="ttl" style="left:246px;top:615.0px;font-size:11.2px">Trading Calendar</div><svg style="left:343.5px;top:614.8px" width="13" height="13" viewBox="0 0 13 13"><circle cx="6.5" cy="6.5" r="5.8" fill="none" stroke="#5a6b86" stroke-width="1.2"/><circle cx="6.5" cy="4.0" r="0.75" fill="#5a6b86"/><rect x="5.9" y="5.6" width="1.2" height="3.6" rx="0.6" fill="#5a6b86"/></svg>
<div style="position:absolute;left:467.8px;top:645.3px;width:58.1px;height:16.3px;border-radius:4px;background:#dbe7fb;color:#2b48a8;font-size:10.6px;-webkit-text-stroke:0.3px #2b48a8;line-height:16.3px;text-align:center">96 trades</div>
<div style="position:absolute;left:1057.7px;top:651.8px;width:11px;height:11px;border-radius:3px;background:#bbf7d0;"></div>
<div class="t " style="left:1076.3px;top:649.7px;font-size:10.5px;color:#2e7a4c;font-weight:400;">Profit</div>
<div style="position:absolute;left:1115.2px;top:651.8px;width:11px;height:11px;border-radius:3px;background:#fecaca;"></div>
<div class="t " style="left:1133px;top:649.7px;font-size:10.5px;color:#a83a3a;font-weight:400;">Loss</div>
<div style="position:absolute;left:1166.7px;top:651.8px;width:11px;height:11px;border-radius:3px;background:#fff;border:1px solid #e6e9ee;"></div>
<div class="t " style="left:1184.6px;top:649.7px;font-size:10.5px;color:#6b7280;font-weight:400;">No activity</div>
<svg style="left:0;top:0" width="1920" height="888"><rect x="245.2" y="718.8" width="13.8" height="13.8" rx="3.5" fill="#f9fafc" stroke="#f3f5f8" stroke-width="0.8"/><rect x="265.5" y="719.3" width="12.8" height="12.8" rx="3.2" fill="#fff" stroke="#edf0f4" stroke-width="1"/><rect x="285.4" y="719.3" width="12.8" height="12.8" rx="3.2" fill="#fff" stroke="#edf0f4" stroke-width="1"/><rect x="305.2" y="719.3" width="12.8" height="12.8" rx="3.2" fill="#fff" stroke="#edf0f4" stroke-width="1"/><rect x="325.0" y="719.3" width="12.8" height="12.8" rx="3.2" fill="#fff" stroke="#edf0f4" stroke-width="1"/><rect x="344.9" y="719.3" width="12.8" height="12.8" rx="3.2" fill="#fff" stroke="#edf0f4" stroke-width="1"/><rect x="364.7" y="719.3" width="12.8" height="12.8" rx="3.2" fill="#fff" stroke="#edf0f4" stroke-width="1"/><rect x="245.7" y="736.9" width="12.8" height="12.8" rx="3.2" fill="#fff" stroke="#edf0f4" stroke-width="1"/><rect x="265.5" y="736.9" width="12.8" height="12.8" rx="3.2" fill="#fff" stroke="#edf0f4" stroke-width="1"/><rect x="284.9" y="736.4" width="13.8" height="13.8" rx="3.5" fill="#bbf7d0"/><rect x="305.2" y="736.9" width="12.8" height="12.8" rx="3.2" fill="#fff" stroke="#edf0f4" stroke-width="1"/><rect x="324.5" y="736.4" width="13.8" height="13.8" rx="3.5" fill="#bbf7d0"/><rect x="344.9" y="736.9" width="12.8" height="12.8" rx="3.2" fill="#fff" stroke="#edf0f4" stroke-width="1"/><rect x="364.7" y="736.9" width="12.8" height="12.8" rx="3.2" fill="#fff" stroke="#edf0f4" stroke-width="1"/><rect x="245.7" y="754.6" width="12.8" height="12.8" rx="3.2" fill="#fff" stroke="#edf0f4" stroke-width="1"/><rect x="265.0" y="754.1" width="13.8" height="13.8" rx="3.5" fill="#bbf7d0"/><rect x="284.9" y="754.1" width="13.8" height="13.8" rx="3.5" fill="#fccaca"/><rect x="304.7" y="754.1" width="13.8" height="13.8" rx="3.5" fill="#bbf7d0"/><rect x="325.0" y="754.6" width="12.8" height="12.8" rx="3.2" fill="#fff" stroke="#edf0f4" stroke-width="1"/><rect x="344.9" y="754.6" width="12.8" height="12.8" rx="3.2" fill="#fff" stroke="#edf0f4" stroke-width="1"/><rect x="364.7" y="754.6" width="12.8" height="12.8" rx="3.2" fill="#fff" stroke="#edf0f4" stroke-width="1"/><rect x="245.7" y="772.2" width="12.8" height="12.8" rx="3.2" fill="#fff" stroke="#edf0f4" stroke-width="1"/><rect x="265.5" y="772.2" width="12.8" height="12.8" rx="3.2" fill="#fff" stroke="#edf0f4" stroke-width="1"/><rect x="284.9" y="771.7" width="13.8" height="13.8" rx="3.5" fill="#bbf7d0"/><rect x="304.7" y="771.7" width="13.8" height="13.8" rx="3.5" fill="#fccaca"/><rect x="325.0" y="772.2" width="12.8" height="12.8" rx="3.2" fill="#fff" stroke="#edf0f4" stroke-width="1"/><rect x="344.9" y="772.2" width="12.8" height="12.8" rx="3.2" fill="#fff" stroke="#edf0f4" stroke-width="1"/><rect x="364.7" y="772.2" width="12.8" height="12.8" rx="3.2" fill="#fff" stroke="#edf0f4" stroke-width="1"/><rect x="245.7" y="789.9" width="12.8" height="12.8" rx="3.2" fill="#fff" stroke="#edf0f4" stroke-width="1"/><rect x="265.5" y="789.9" width="12.8" height="12.8" rx="3.2" fill="#fff" stroke="#edf0f4" stroke-width="1"/><rect x="284.9" y="789.4" width="13.8" height="13.8" rx="3.5" fill="#f9fafc" stroke="#f3f5f8" stroke-width="0.8"/><rect x="304.7" y="789.4" width="13.8" height="13.8" rx="3.5" fill="#f9fafc" stroke="#f3f5f8" stroke-width="0.8"/><rect x="324.5" y="789.4" width="13.8" height="13.8" rx="3.5" fill="#f9fafc" stroke="#f3f5f8" stroke-width="0.8"/><rect x="344.4" y="789.4" width="13.8" height="13.8" rx="3.5" fill="#f9fafc" stroke="#f3f5f8" stroke-width="0.8"/><rect x="364.2" y="789.4" width="13.8" height="13.8" rx="3.5" fill="#f9fafc" stroke="#f3f5f8" stroke-width="0.8"/><rect x="245.2" y="807.0" width="13.8" height="13.8" rx="3.5" fill="#f9fafc" stroke="#f3f5f8" stroke-width="0.8"/><rect x="265.0" y="807.0" width="13.8" height="13.8" rx="3.5" fill="#f9fafc" stroke="#f3f5f8" stroke-width="0.8"/><rect x="284.9" y="807.0" width="13.8" height="13.8" rx="3.5" fill="#f9fafc" stroke="#f3f5f8" stroke-width="0.8"/><rect x="304.7" y="807.0" width="13.8" height="13.8" rx="3.5" fill="#f9fafc" stroke="#f3f5f8" stroke-width="0.8"/><rect x="324.5" y="807.0" width="13.8" height="13.8" rx="3.5" fill="#f9fafc" stroke="#f3f5f8" stroke-width="0.8"/><rect x="344.4" y="807.0" width="13.8" height="13.8" rx="3.5" fill="#f9fafc" stroke="#f3f5f8" stroke-width="0.8"/><rect x="364.2" y="807.0" width="13.8" height="13.8" rx="3.5" fill="#f9fafc" stroke="#f3f5f8" stroke-width="0.8"/><rect x="387.5" y="718.8" width="13.8" height="13.8" rx="3.5" fill="#f9fafc" stroke="#f3f5f8" stroke-width="0.8"/><rect x="407.3" y="718.8" width="13.8" height="13.8" rx="3.5" fill="#f9fafc" stroke="#f3f5f8" stroke-width="0.8"/><rect x="427.2" y="718.8" width="13.8" height="13.8" rx="3.5" fill="#f9fafc" stroke="#f3f5f8" stroke-width="0.8"/><rect x="447.5" y="719.3" width="12.8" height="12.8" rx="3.2" fill="#fff" stroke="#edf0f4" stroke-width="1"/><rect x="467.3" y="719.3" width="12.8" height="12.8" rx="3.2" fill="#fff" stroke="#edf0f4" stroke-width="1"/><rect x="487.2" y="719.3" width="12.8" height="12.8" rx="3.2" fill="#fff" stroke="#edf0f4" stroke-width="1"/><rect x="507.0" y="719.3" width="12.8" height="12.8" rx="3.2" fill="#fff" stroke="#edf0f4" stroke-width="1"/><rect x="388.0" y="736.9" width="12.8" height="12.8" rx="3.2" fill="#fff" stroke="#edf0f4" stroke-width="1"/><rect x="407.8" y="736.9" width="12.8" height="12.8" rx="3.2" fill="#fff" stroke="#edf0f4" stroke-width="1"/><rect x="427.7" y="736.9" width="12.8" height="12.8" rx="3.2" fill="#fff" stroke="#edf0f4" stroke-width="1"/><rect x="447.5" y="736.9" width="12.8" height="12.8" rx="3.2" fill="#fff" stroke="#edf0f4" stroke-width="1"/><rect x="467.3" y="736.9" width="12.8" height="12.8" rx="3.2" fill="#fff" stroke="#edf0f4" stroke-width="1"/><rect x="487.2" y="736.9" width="12.8" height="12.8" rx="3.2" fill="#fff" stroke="#edf0f4" stroke-width="1"/><rect x="507.0" y="736.9" width="12.8" height="12.8" rx="3.2" fill="#fff" stroke="#edf0f4" stroke-width="1"/><rect x="388.0" y="754.6" width="12.8" height="12.8" rx="3.2" fill="#fff" stroke="#edf0f4" stroke-width="1"/><rect x="407.8" y="754.6" width="12.8" height="12.8" rx="3.2" fill="#fff" stroke="#edf0f4" stroke-width="1"/><rect x="427.2" y="754.1" width="13.8" height="13.8" rx="3.5" fill="#bbf7d0"/><rect x="447.0" y="754.1" width="13.8" height="13.8" rx="3.5" fill="#bbf7d0"/><rect x="466.8" y="754.1" width="13.8" height="13.8" rx="3.5" fill="#bbf7d0"/><rect x="487.2" y="754.6" width="12.8" height="12.8" rx="3.2" fill="#fff" stroke="#edf0f4" stroke-width="1"/><rect x="507.0" y="754.6" width="12.8" height="12.8" rx="3.2" fill="#fff" stroke="#edf0f4" stroke-width="1"/><rect x="388.0" y="772.2" width="12.8" height="12.8" rx="3.2" fill="#fff" stroke="#edf0f4" stroke-width="1"/><rect x="407.8" y="772.2" width="12.8" height="12.8" rx="3.2" fill="#fff" stroke="#edf0f4" stroke-width="1"/><rect x="427.2" y="771.7" width="13.8" height="13.8" rx="3.5" fill="#bbf7d0"/><rect x="447.0" y="771.7" width="13.8" height="13.8" rx="3.5" fill="#bbf7d0"/><rect x="466.8" y="771.7" width="13.8" height="13.8" rx="3.5" fill="#fccaca"/><rect x="487.2" y="772.2" width="12.8" height="12.8" rx="3.2" fill="#fff" stroke="#edf0f4" stroke-width="1"/><rect x="507.0" y="772.2" width="12.8" height="12.8" rx="3.2" fill="#fff" stroke="#edf0f4" stroke-width="1"/><rect x="388.0" y="789.9" width="12.8" height="12.8" rx="3.2" fill="#fff" stroke="#edf0f4" stroke-width="1"/><rect x="407.8" y="789.9" width="12.8" height="12.8" rx="3.2" fill="#fff" stroke="#edf0f4" stroke-width="1"/><rect x="427.7" y="789.9" width="12.8" height="12.8" rx="3.2" fill="#fff" stroke="#edf0f4" stroke-width="1"/><rect x="447.0" y="789.4" width="13.8" height="13.8" rx="3.5" fill="#fccaca"/><rect x="466.8" y="789.4" width="13.8" height="13.8" rx="3.5" fill="#bbf7d0"/><rect x="487.2" y="789.9" width="12.8" height="12.8" rx="3.2" fill="#fff" stroke="#edf0f4" stroke-width="1"/><rect x="506.5" y="789.4" width="13.8" height="13.8" rx="3.5" fill="#f9fafc" stroke="#f3f5f8" stroke-width="0.8"/><rect x="387.5" y="807.0" width="13.8" height="13.8" rx="3.5" fill="#f9fafc" stroke="#f3f5f8" stroke-width="0.8"/><rect x="407.3" y="807.0" width="13.8" height="13.8" rx="3.5" fill="#f9fafc" stroke="#f3f5f8" stroke-width="0.8"/><rect x="427.2" y="807.0" width="13.8" height="13.8" rx="3.5" fill="#f9fafc" stroke="#f3f5f8" stroke-width="0.8"/><rect x="447.0" y="807.0" width="13.8" height="13.8" rx="3.5" fill="#f9fafc" stroke="#f3f5f8" stroke-width="0.8"/><rect x="466.8" y="807.0" width="13.8" height="13.8" rx="3.5" fill="#f9fafc" stroke="#f3f5f8" stroke-width="0.8"/><rect x="486.7" y="807.0" width="13.8" height="13.8" rx="3.5" fill="#f9fafc" stroke="#f3f5f8" stroke-width="0.8"/><rect x="506.5" y="807.0" width="13.8" height="13.8" rx="3.5" fill="#f9fafc" stroke="#f3f5f8" stroke-width="0.8"/><rect x="529.8" y="718.8" width="13.8" height="13.8" rx="3.5" fill="#f9fafc" stroke="#f3f5f8" stroke-width="0.8"/><rect x="549.6" y="718.8" width="13.8" height="13.8" rx="3.5" fill="#f9fafc" stroke="#f3f5f8" stroke-width="0.8"/><rect x="569.5" y="718.8" width="13.8" height="13.8" rx="3.5" fill="#f9fafc" stroke="#f3f5f8" stroke-width="0.8"/><rect x="589.3" y="718.8" width="13.8" height="13.8" rx="3.5" fill="#f9fafc" stroke="#f3f5f8" stroke-width="0.8"/><rect x="609.1" y="718.8" width="13.8" height="13.8" rx="3.5" fill="#f9fafc" stroke="#f3f5f8" stroke-width="0.8"/><rect x="629.0" y="718.8" width="13.8" height="13.8" rx="3.5" fill="#f9fafc" stroke="#f3f5f8" stroke-width="0.8"/><rect x="649.3" y="719.3" width="12.8" height="12.8" rx="3.2" fill="#fff" stroke="#edf0f4" stroke-width="1"/><rect x="530.3" y="736.9" width="12.8" height="12.8" rx="3.2" fill="#fff" stroke="#edf0f4" stroke-width="1"/><rect x="549.6" y="736.4" width="13.8" height="13.8" rx="3.5" fill="#bbf7d0"/><rect x="569.5" y="736.4" width="13.8" height="13.8" rx="3.5" fill="#fccaca"/><rect x="589.3" y="736.4" width="13.8" height="13.8" rx="3.5" fill="#bbf7d0"/><rect x="609.6" y="736.9" width="12.8" height="12.8" rx="3.2" fill="#fff" stroke="#edf0f4" stroke-width="1"/><rect x="629.5" y="736.9" width="12.8" height="12.8" rx="3.2" fill="#fff" stroke="#edf0f4" stroke-width="1"/><rect x="649.3" y="736.9" width="12.8" height="12.8" rx="3.2" fill="#fff" stroke="#edf0f4" stroke-width="1"/><rect x="529.8" y="754.1" width="13.8" height="13.8" rx="3.5" fill="#bbf7d0"/><rect x="549.6" y="754.1" width="13.8" height="13.8" rx="3.5" fill="#bbf7d0"/><rect x="569.5" y="754.1" width="13.8" height="13.8" rx="3.5" fill="#fccaca"/><rect x="589.3" y="754.1" width="13.8" height="13.8" rx="3.5" fill="#bbf7d0"/><rect x="609.1" y="754.1" width="13.8" height="13.8" rx="3.5" fill="#fccaca"/><rect x="629.5" y="754.6" width="12.8" height="12.8" rx="3.2" fill="#fff" stroke="#edf0f4" stroke-width="1"/><rect x="649.3" y="754.6" width="12.8" height="12.8" rx="3.2" fill="#fff" stroke="#edf0f4" stroke-width="1"/><rect x="530.3" y="772.2" width="12.8" height="12.8" rx="3.2" fill="#fff" stroke="#edf0f4" stroke-width="1"/><rect x="549.6" y="771.7" width="13.8" height="13.8" rx="3.5" fill="#bbf7d0"/><rect x="569.5" y="771.7" width="13.8" height="13.8" rx="3.5" fill="#bbf7d0"/><rect x="589.3" y="771.7" width="13.8" height="13.8" rx="3.5" fill="#fccaca"/><rect x="609.1" y="771.7" width="13.8" height="13.8" rx="3.5" fill="#bbf7d0"/><rect x="629.5" y="772.2" width="12.8" height="12.8" rx="3.2" fill="#fff" stroke="#edf0f4" stroke-width="1"/><rect x="649.3" y="772.2" width="12.8" height="12.8" rx="3.2" fill="#fff" stroke="#edf0f4" stroke-width="1"/><rect x="529.8" y="789.4" width="13.8" height="13.8" rx="3.5" fill="#bbf7d0"/><rect x="549.6" y="789.4" width="13.8" height="13.8" rx="3.5" fill="#bbf7d0"/><rect x="569.5" y="789.4" width="13.8" height="13.8" rx="3.5" fill="#bbf7d0"/><rect x="589.8" y="789.9" width="12.8" height="12.8" rx="3.2" fill="#fff" stroke="#edf0f4" stroke-width="1"/><rect x="609.1" y="789.4" width="13.8" height="13.8" rx="3.5" fill="#bbf7d0"/><rect x="629.5" y="789.9" width="12.8" height="12.8" rx="3.2" fill="#fff" stroke="#edf0f4" stroke-width="1"/><rect x="649.3" y="789.9" width="12.8" height="12.8" rx="3.2" fill="#fff" stroke="#edf0f4" stroke-width="1"/><rect x="530.3" y="807.5" width="12.8" height="12.8" rx="3.2" fill="#fff" stroke="#edf0f4" stroke-width="1"/><rect x="549.6" y="807.0" width="13.8" height="13.8" rx="3.5" fill="#f9fafc" stroke="#f3f5f8" stroke-width="0.8"/><rect x="569.5" y="807.0" width="13.8" height="13.8" rx="3.5" fill="#f9fafc" stroke="#f3f5f8" stroke-width="0.8"/><rect x="589.3" y="807.0" width="13.8" height="13.8" rx="3.5" fill="#f9fafc" stroke="#f3f5f8" stroke-width="0.8"/><rect x="609.1" y="807.0" width="13.8" height="13.8" rx="3.5" fill="#f9fafc" stroke="#f3f5f8" stroke-width="0.8"/><rect x="629.0" y="807.0" width="13.8" height="13.8" rx="3.5" fill="#f9fafc" stroke="#f3f5f8" stroke-width="0.8"/><rect x="648.8" y="807.0" width="13.8" height="13.8" rx="3.5" fill="#f9fafc" stroke="#f3f5f8" stroke-width="0.8"/><rect x="672.1" y="718.8" width="13.8" height="13.8" rx="3.5" fill="#f9fafc" stroke="#f3f5f8" stroke-width="0.8"/><rect x="692.4" y="719.3" width="12.8" height="12.8" rx="3.2" fill="#fff" stroke="#edf0f4" stroke-width="1"/><rect x="712.3" y="719.3" width="12.8" height="12.8" rx="3.2" fill="#fff" stroke="#edf0f4" stroke-width="1"/><rect x="732.1" y="719.3" width="12.8" height="12.8" rx="3.2" fill="#fff" stroke="#edf0f4" stroke-width="1"/><rect x="751.9" y="719.3" width="12.8" height="12.8" rx="3.2" fill="#fff" stroke="#edf0f4" stroke-width="1"/><rect x="771.8" y="719.3" width="12.8" height="12.8" rx="3.2" fill="#fff" stroke="#edf0f4" stroke-width="1"/><rect x="791.6" y="719.3" width="12.8" height="12.8" rx="3.2" fill="#fff" stroke="#edf0f4" stroke-width="1"/><rect x="672.1" y="736.4" width="13.8" height="13.8" rx="3.5" fill="#bbf7d0"/><rect x="691.9" y="736.4" width="13.8" height="13.8" rx="3.5" fill="#fccaca"/><rect x="711.8" y="736.4" width="13.8" height="13.8" rx="3.5" fill="#bbf7d0"/><rect x="731.6" y="736.4" width="13.8" height="13.8" rx="3.5" fill="#fccaca"/><rect x="751.4" y="736.4" width="13.8" height="13.8" rx="3.5" fill="#bbf7d0"/><rect x="771.8" y="736.9" width="12.8" height="12.8" rx="3.2" fill="#fff" stroke="#edf0f4" stroke-width="1"/><rect x="791.6" y="736.9" width="12.8" height="12.8" rx="3.2" fill="#fff" stroke="#edf0f4" stroke-width="1"/><rect x="672.6" y="754.6" width="12.8" height="12.8" rx="3.2" fill="#fff" stroke="#edf0f4" stroke-width="1"/><rect x="692.4" y="754.6" width="12.8" height="12.8" rx="3.2" fill="#fff" stroke="#edf0f4" stroke-width="1"/><rect x="711.8" y="754.1" width="13.8" height="13.8" rx="3.5" fill="#bbf7d0"/><rect x="731.6" y="754.1" width="13.8" height="13.8" rx="3.5" fill="#bbf7d0"/><rect x="751.4" y="754.1" width="13.8" height="13.8" rx="3.5" fill="#bbf7d0"/><rect x="771.8" y="754.6" width="12.8" height="12.8" rx="3.2" fill="#fff" stroke="#edf0f4" stroke-width="1"/><rect x="791.6" y="754.6" width="12.8" height="12.8" rx="3.2" fill="#fff" stroke="#edf0f4" stroke-width="1"/><rect x="672.1" y="771.7" width="13.8" height="13.8" rx="3.5" fill="#bbf7d0"/><rect x="691.9" y="771.7" width="13.8" height="13.8" rx="3.5" fill="#fccaca"/><rect x="711.8" y="771.7" width="13.8" height="13.8" rx="3.5" fill="#bbf7d0"/><rect x="731.6" y="771.7" width="13.8" height="13.8" rx="3.5" fill="#bbf7d0"/><rect x="751.4" y="771.7" width="13.8" height="13.8" rx="3.5" fill="#fccaca"/><rect x="771.8" y="772.2" width="12.8" height="12.8" rx="3.2" fill="#fff" stroke="#edf0f4" stroke-width="1"/><rect x="791.6" y="772.2" width="12.8" height="12.8" rx="3.2" fill="#fff" stroke="#edf0f4" stroke-width="1"/><rect x="672.1" y="789.4" width="13.8" height="13.8" rx="3.5" fill="#fccaca"/><rect x="691.9" y="789.4" width="13.8" height="13.8" rx="3.5" fill="#bbf7d0"/><rect x="711.8" y="789.4" width="13.8" height="13.8" rx="3.5" fill="#bbf7d0"/><rect x="731.6" y="789.4" width="13.8" height="13.8" rx="3.5" fill="#fccaca"/><rect x="751.4" y="789.4" width="13.8" height="13.8" rx="3.5" fill="#f9fafc" stroke="#f3f5f8" stroke-width="0.8"/><rect x="771.2" y="789.4" width="13.8" height="13.8" rx="3.5" fill="#f9fafc" stroke="#f3f5f8" stroke-width="0.8"/><rect x="791.1" y="789.4" width="13.8" height="13.8" rx="3.5" fill="#f9fafc" stroke="#f3f5f8" stroke-width="0.8"/><rect x="672.1" y="807.0" width="13.8" height="13.8" rx="3.5" fill="#f9fafc" stroke="#f3f5f8" stroke-width="0.8"/><rect x="691.9" y="807.0" width="13.8" height="13.8" rx="3.5" fill="#f9fafc" stroke="#f3f5f8" stroke-width="0.8"/><rect x="711.8" y="807.0" width="13.8" height="13.8" rx="3.5" fill="#f9fafc" stroke="#f3f5f8" stroke-width="0.8"/><rect x="731.6" y="807.0" width="13.8" height="13.8" rx="3.5" fill="#f9fafc" stroke="#f3f5f8" stroke-width="0.8"/><rect x="751.4" y="807.0" width="13.8" height="13.8" rx="3.5" fill="#f9fafc" stroke="#f3f5f8" stroke-width="0.8"/><rect x="771.2" y="807.0" width="13.8" height="13.8" rx="3.5" fill="#f9fafc" stroke="#f3f5f8" stroke-width="0.8"/><rect x="791.1" y="807.0" width="13.8" height="13.8" rx="3.5" fill="#f9fafc" stroke="#f3f5f8" stroke-width="0.8"/><rect x="814.4" y="718.8" width="13.8" height="13.8" rx="3.5" fill="#f9fafc" stroke="#f3f5f8" stroke-width="0.8"/><rect x="834.2" y="718.8" width="13.8" height="13.8" rx="3.5" fill="#f9fafc" stroke="#f3f5f8" stroke-width="0.8"/><rect x="854.1" y="718.8" width="13.8" height="13.8" rx="3.5" fill="#f9fafc" stroke="#f3f5f8" stroke-width="0.8"/><rect x="873.9" y="718.8" width="13.8" height="13.8" rx="3.5" fill="#f9fafc" stroke="#f3f5f8" stroke-width="0.8"/><rect x="893.7" y="718.8" width="13.8" height="13.8" rx="3.5" fill="#bbf7d0"/><rect x="914.1" y="719.3" width="12.8" height="12.8" rx="3.2" fill="#fff" stroke="#edf0f4" stroke-width="1"/><rect x="933.9" y="719.3" width="12.8" height="12.8" rx="3.2" fill="#fff" stroke="#edf0f4" stroke-width="1"/><rect x="814.4" y="736.4" width="13.8" height="13.8" rx="3.5" fill="#bbf7d0"/><rect x="834.2" y="736.4" width="13.8" height="13.8" rx="3.5" fill="#bbf7d0"/><rect x="854.1" y="736.4" width="13.8" height="13.8" rx="3.5" fill="#fccaca"/><rect x="874.4" y="736.9" width="12.8" height="12.8" rx="3.2" fill="#fff" stroke="#edf0f4" stroke-width="1"/><rect x="893.7" y="736.4" width="13.8" height="13.8" rx="3.5" fill="#fccaca"/><rect x="914.1" y="736.9" width="12.8" height="12.8" rx="3.2" fill="#fff" stroke="#edf0f4" stroke-width="1"/><rect x="933.9" y="736.9" width="12.8" height="12.8" rx="3.2" fill="#fff" stroke="#edf0f4" stroke-width="1"/><rect x="814.4" y="754.1" width="13.8" height="13.8" rx="3.5" fill="#fccaca"/><rect x="834.2" y="754.1" width="13.8" height="13.8" rx="3.5" fill="#bbf7d0"/><rect x="854.1" y="754.1" width="13.8" height="13.8" rx="3.5" fill="#bbf7d0"/><rect x="873.9" y="754.1" width="13.8" height="13.8" rx="3.5" fill="#bbf7d0"/><rect x="894.2" y="754.6" width="12.8" height="12.8" rx="3.2" fill="#fff" stroke="#edf0f4" stroke-width="1"/><rect x="914.1" y="754.6" width="12.8" height="12.8" rx="3.2" fill="#fff" stroke="#edf0f4" stroke-width="1"/><rect x="933.9" y="754.6" width="12.8" height="12.8" rx="3.2" fill="#fff" stroke="#edf0f4" stroke-width="1"/><rect x="814.9" y="772.2" width="12.8" height="12.8" rx="3.2" fill="#fff" stroke="#edf0f4" stroke-width="1"/><rect x="834.2" y="771.7" width="13.8" height="13.8" rx="3.5" fill="#bbf7d0"/><rect x="854.1" y="771.7" width="13.8" height="13.8" rx="3.5" fill="#bbf7d0"/><rect x="874.4" y="772.2" width="12.8" height="12.8" rx="3.2" fill="#fff" stroke="#edf0f4" stroke-width="1"/><rect x="894.2" y="772.2" width="12.8" height="12.8" rx="3.2" fill="#fff" stroke="#edf0f4" stroke-width="1"/><rect x="914.1" y="772.2" width="12.8" height="12.8" rx="3.2" fill="#fff" stroke="#edf0f4" stroke-width="1"/><rect x="933.9" y="772.2" width="12.8" height="12.8" rx="3.2" fill="#fff" stroke="#edf0f4" stroke-width="1"/><rect x="814.4" y="789.4" width="13.8" height="13.8" rx="3.5" fill="#bbf7d0"/><rect x="834.7" y="789.9" width="12.8" height="12.8" rx="3.2" fill="#fff" stroke="#edf0f4" stroke-width="1"/><rect x="854.1" y="789.4" width="13.8" height="13.8" rx="3.5" fill="#fccaca"/><rect x="873.9" y="789.4" width="13.8" height="13.8" rx="3.5" fill="#bbf7d0"/><rect x="893.7" y="789.4" width="13.8" height="13.8" rx="3.5" fill="#fccaca"/><rect x="914.1" y="789.9" width="12.8" height="12.8" rx="3.2" fill="#fff" stroke="#edf0f4" stroke-width="1"/><rect x="933.9" y="789.9" width="12.8" height="12.8" rx="3.2" fill="#fff" stroke="#edf0f4" stroke-width="1"/><rect x="814.4" y="807.0" width="13.8" height="13.8" rx="3.5" fill="#f9fafc" stroke="#f3f5f8" stroke-width="0.8"/><rect x="834.2" y="807.0" width="13.8" height="13.8" rx="3.5" fill="#f9fafc" stroke="#f3f5f8" stroke-width="0.8"/><rect x="854.1" y="807.0" width="13.8" height="13.8" rx="3.5" fill="#f9fafc" stroke="#f3f5f8" stroke-width="0.8"/><rect x="873.9" y="807.0" width="13.8" height="13.8" rx="3.5" fill="#f9fafc" stroke="#f3f5f8" stroke-width="0.8"/><rect x="893.7" y="807.0" width="13.8" height="13.8" rx="3.5" fill="#f9fafc" stroke="#f3f5f8" stroke-width="0.8"/><rect x="913.6" y="807.0" width="13.8" height="13.8" rx="3.5" fill="#f9fafc" stroke="#f3f5f8" stroke-width="0.8"/><rect x="933.4" y="807.0" width="13.8" height="13.8" rx="3.5" fill="#f9fafc" stroke="#f3f5f8" stroke-width="0.8"/><rect x="956.7" y="718.8" width="13.8" height="13.8" rx="3.5" fill="#bbf7d0"/><rect x="976.5" y="718.8" width="13.8" height="13.8" rx="3.5" fill="#bbf7d0"/><rect x="996.4" y="718.8" width="13.8" height="13.8" rx="3.5" fill="#bbf7d0"/><rect x="1016.2" y="718.8" width="13.8" height="13.8" rx="3.5" fill="#bbf7d0"/><rect x="1036.0" y="718.8" width="13.8" height="13.8" rx="3.5" fill="#bbf7d0"/><rect x="1056.4" y="719.3" width="12.8" height="12.8" rx="3.2" fill="#fff" stroke="#edf0f4" stroke-width="1"/><rect x="1076.2" y="719.3" width="12.8" height="12.8" rx="3.2" fill="#fff" stroke="#edf0f4" stroke-width="1"/><rect x="956.7" y="736.4" width="13.8" height="13.8" rx="3.5" fill="#bbf7d0"/><rect x="977.0" y="736.9" width="12.8" height="12.8" rx="3.2" fill="#fff" stroke="#edf0f4" stroke-width="1"/><rect x="996.4" y="736.4" width="13.8" height="13.8" rx="3.5" fill="#fccaca"/><rect x="1016.2" y="736.4" width="13.8" height="13.8" rx="3.5" fill="#bbf7d0"/><rect x="1036.5" y="736.9" width="12.8" height="12.8" rx="3.2" fill="#fff" stroke="#edf0f4" stroke-width="1"/><rect x="1056.4" y="736.9" width="12.8" height="12.8" rx="3.2" fill="#fff" stroke="#edf0f4" stroke-width="1"/><rect x="1076.2" y="736.9" width="12.8" height="12.8" rx="3.2" fill="#fff" stroke="#edf0f4" stroke-width="1"/><rect x="957.2" y="754.6" width="12.8" height="12.8" rx="3.2" fill="#fff" stroke="#edf0f4" stroke-width="1"/><rect x="977.0" y="754.6" width="12.8" height="12.8" rx="3.2" fill="#fff" stroke="#edf0f4" stroke-width="1"/><rect x="996.4" y="754.1" width="13.8" height="13.8" rx="3.5" fill="#bbf7d0"/><rect x="1016.2" y="754.1" width="13.8" height="13.8" rx="3.5" fill="#bbf7d0"/><rect x="1036.0" y="754.1" width="13.8" height="13.8" rx="3.5" fill="#bbf7d0"/><rect x="1056.4" y="754.6" width="12.8" height="12.8" rx="3.2" fill="#fff" stroke="#edf0f4" stroke-width="1"/><rect x="1076.2" y="754.6" width="12.8" height="12.8" rx="3.2" fill="#fff" stroke="#edf0f4" stroke-width="1"/><rect x="957.2" y="772.2" width="12.8" height="12.8" rx="3.2" fill="#fff" stroke="#edf0f4" stroke-width="1"/><rect x="976.5" y="771.7" width="13.8" height="13.8" rx="3.5" fill="#fccaca"/><rect x="996.9" y="772.2" width="12.8" height="12.8" rx="3.2" fill="#fff" stroke="#edf0f4" stroke-width="1"/><rect x="1016.2" y="771.7" width="13.8" height="13.8" rx="3.5" fill="#bbf7d0"/><rect x="1036.5" y="772.2" width="12.8" height="12.8" rx="3.2" fill="#fff" stroke="#edf0f4" stroke-width="1"/><rect x="1056.4" y="772.2" width="12.8" height="12.8" rx="3.2" fill="#fff" stroke="#edf0f4" stroke-width="1"/><rect x="1076.2" y="772.2" width="12.8" height="12.8" rx="3.2" fill="#fff" stroke="#edf0f4" stroke-width="1"/><rect x="956.7" y="789.4" width="13.8" height="13.8" rx="3.5" fill="#bbf7d0"/><rect x="977.0" y="789.9" width="12.8" height="12.8" rx="3.2" fill="#fff" stroke="#edf0f4" stroke-width="1"/><rect x="996.4" y="789.4" width="13.8" height="13.8" rx="3.5" fill="#f9fafc" stroke="#f3f5f8" stroke-width="0.8"/><rect x="1016.2" y="789.4" width="13.8" height="13.8" rx="3.5" fill="#f9fafc" stroke="#f3f5f8" stroke-width="0.8"/><rect x="1036.0" y="789.4" width="13.8" height="13.8" rx="3.5" fill="#f9fafc" stroke="#f3f5f8" stroke-width="0.8"/><rect x="1055.9" y="789.4" width="13.8" height="13.8" rx="3.5" fill="#f9fafc" stroke="#f3f5f8" stroke-width="0.8"/><rect x="1075.7" y="789.4" width="13.8" height="13.8" rx="3.5" fill="#f9fafc" stroke="#f3f5f8" stroke-width="0.8"/><rect x="956.7" y="807.0" width="13.8" height="13.8" rx="3.5" fill="#f9fafc" stroke="#f3f5f8" stroke-width="0.8"/><rect x="976.5" y="807.0" width="13.8" height="13.8" rx="3.5" fill="#f9fafc" stroke="#f3f5f8" stroke-width="0.8"/><rect x="996.4" y="807.0" width="13.8" height="13.8" rx="3.5" fill="#f9fafc" stroke="#f3f5f8" stroke-width="0.8"/><rect x="1016.2" y="807.0" width="13.8" height="13.8" rx="3.5" fill="#f9fafc" stroke="#f3f5f8" stroke-width="0.8"/><rect x="1036.0" y="807.0" width="13.8" height="13.8" rx="3.5" fill="#f9fafc" stroke="#f3f5f8" stroke-width="0.8"/><rect x="1055.9" y="807.0" width="13.8" height="13.8" rx="3.5" fill="#f9fafc" stroke="#f3f5f8" stroke-width="0.8"/><rect x="1075.7" y="807.0" width="13.8" height="13.8" rx="3.5" fill="#f9fafc" stroke="#f3f5f8" stroke-width="0.8"/><rect x="1099.0" y="718.8" width="13.8" height="13.8" rx="3.5" fill="#f9fafc" stroke="#f3f5f8" stroke-width="0.8"/><rect x="1118.8" y="718.8" width="13.8" height="13.8" rx="3.5" fill="#f9fafc" stroke="#f3f5f8" stroke-width="0.8"/><rect x="1139.2" y="719.3" width="12.8" height="12.8" rx="3.2" fill="#fff" stroke="#edf0f4" stroke-width="1"/><rect x="1159.0" y="719.3" width="12.8" height="12.8" rx="3.2" fill="#fff" stroke="#edf0f4" stroke-width="1"/><rect x="1178.8" y="719.3" width="12.8" height="12.8" rx="3.2" fill="#fff" stroke="#edf0f4" stroke-width="1"/><rect x="1198.7" y="719.3" width="12.8" height="12.8" rx="3.2" fill="#fff" stroke="#edf0f4" stroke-width="1"/><rect x="1218.0" y="718.8" width="13.8" height="13.8" rx="3.5" fill="#bbf7d0"/><rect x="1099.0" y="736.4" width="13.8" height="13.8" rx="3.5" fill="#bbf7d0"/><rect x="1118.8" y="736.4" width="13.8" height="13.8" rx="3.5" fill="#bbf7d0"/><rect x="1138.7" y="736.4" width="13.8" height="13.8" rx="3.5" fill="#bbf7d0"/><rect x="1159.0" y="736.9" width="12.8" height="12.8" rx="3.2" fill="#fff" stroke="#edf0f4" stroke-width="1"/><rect x="1178.3" y="736.4" width="13.8" height="13.8" rx="3.5" fill="#fccaca"/><rect x="1198.2" y="736.4" width="13.8" height="13.8" rx="3.5" fill="#fccaca"/><rect x="1218.5" y="736.9" width="12.8" height="12.8" rx="3.2" fill="#fff" stroke="#edf0f4" stroke-width="1"/><rect x="1099.5" y="754.6" width="12.8" height="12.8" rx="3.2" fill="#fff" stroke="#edf0f4" stroke-width="1"/><rect x="1119.3" y="754.6" width="12.8" height="12.8" rx="3.2" fill="#fff" stroke="#edf0f4" stroke-width="1"/><rect x="1139.2" y="754.6" width="12.8" height="12.8" rx="3.2" fill="#fff" stroke="#edf0f4" stroke-width="1"/><rect x="1159.0" y="754.6" width="12.8" height="12.8" rx="3.2" fill="#fff" stroke="#edf0f4" stroke-width="1"/><rect x="1178.8" y="754.6" width="12.8" height="12.8" rx="3.2" fill="#fff" stroke="#edf0f4" stroke-width="1"/><rect x="1198.7" y="754.6" width="12.8" height="12.8" rx="3.2" fill="#fff" stroke="#edf0f4" stroke-width="1"/><rect x="1218.5" y="754.6" width="12.8" height="12.8" rx="3.2" fill="#fff" stroke="#edf0f4" stroke-width="1"/><rect x="1099.5" y="772.2" width="12.8" height="12.8" rx="3.2" fill="#fff" stroke="#edf0f4" stroke-width="1"/><rect x="1119.3" y="772.2" width="12.8" height="12.8" rx="3.2" fill="#fff" stroke="#edf0f4" stroke-width="1"/><rect x="1139.2" y="772.2" width="12.8" height="12.8" rx="3.2" fill="#fff" stroke="#edf0f4" stroke-width="1"/><rect x="1159.0" y="772.2" width="12.8" height="12.8" rx="3.2" fill="#fff" stroke="#edf0f4" stroke-width="1"/><rect x="1178.8" y="772.2" width="12.8" height="12.8" rx="3.2" fill="#fff" stroke="#edf0f4" stroke-width="1"/><rect x="1198.7" y="772.2" width="12.8" height="12.8" rx="3.2" fill="#fff" stroke="#edf0f4" stroke-width="1"/><rect x="1218.5" y="772.2" width="12.8" height="12.8" rx="3.2" fill="#fff" stroke="#edf0f4" stroke-width="1"/><rect x="1099.5" y="789.9" width="12.8" height="12.8" rx="3.2" fill="#fff" stroke="#edf0f4" stroke-width="1"/><rect x="1119.3" y="789.9" width="12.8" height="12.8" rx="3.2" fill="#fff" stroke="#edf0f4" stroke-width="1"/><rect x="1139.2" y="789.9" width="12.8" height="12.8" rx="3.2" fill="#fff" stroke="#edf0f4" stroke-width="1"/><rect x="1159.0" y="789.9" width="12.8" height="12.8" rx="3.2" fill="#fff" stroke="#edf0f4" stroke-width="1"/><rect x="1178.8" y="789.9" width="12.8" height="12.8" rx="3.2" fill="#fff" stroke="#edf0f4" stroke-width="1"/><rect x="1198.2" y="789.4" width="13.8" height="13.8" rx="3.5" fill="#f9fafc" stroke="#f3f5f8" stroke-width="0.8"/><rect x="1218.0" y="789.4" width="13.8" height="13.8" rx="3.5" fill="#f9fafc" stroke="#f3f5f8" stroke-width="0.8"/><rect x="1099.0" y="807.0" width="13.8" height="13.8" rx="3.5" fill="#f9fafc" stroke="#f3f5f8" stroke-width="0.8"/><rect x="1118.8" y="807.0" width="13.8" height="13.8" rx="3.5" fill="#f9fafc" stroke="#f3f5f8" stroke-width="0.8"/><rect x="1138.7" y="807.0" width="13.8" height="13.8" rx="3.5" fill="#f9fafc" stroke="#f3f5f8" stroke-width="0.8"/><rect x="1158.5" y="807.0" width="13.8" height="13.8" rx="3.5" fill="#f9fafc" stroke="#f3f5f8" stroke-width="0.8"/><rect x="1178.3" y="807.0" width="13.8" height="13.8" rx="3.5" fill="#f9fafc" stroke="#f3f5f8" stroke-width="0.8"/><rect x="1198.2" y="807.0" width="13.8" height="13.8" rx="3.5" fill="#f9fafc" stroke="#f3f5f8" stroke-width="0.8"/><rect x="1218.0" y="807.0" width="13.8" height="13.8" rx="3.5" fill="#f9fafc" stroke="#f3f5f8" stroke-width="0.8"/></svg>
<div class="t sb" style="left:312.79px;top:680.2px;font-size:12.0px;color:#55657c;font-weight:400;transform:translateX(-50%);">Apr 2025</div>
<div class="t sb" style="left:252.10000000000002px;top:698.9px;font-size:8.8px;color:#6b7a90;font-weight:400;transform:translateX(-50%);">M</div>
<div class="t sb" style="left:271.93px;top:698.9px;font-size:8.8px;color:#6b7a90;font-weight:400;transform:translateX(-50%);">T</div>
<div class="t sb" style="left:291.76px;top:698.9px;font-size:8.8px;color:#6b7a90;font-weight:400;transform:translateX(-50%);">W</div>
<div class="t sb" style="left:311.59000000000003px;top:698.9px;font-size:8.8px;color:#6b7a90;font-weight:400;transform:translateX(-50%);">T</div>
<div class="t sb" style="left:331.42px;top:698.9px;font-size:8.8px;color:#6b7a90;font-weight:400;transform:translateX(-50%);">F</div>
<div class="t sb" style="left:351.25px;top:698.9px;font-size:8.8px;color:#6b7a90;font-weight:400;transform:translateX(-50%);">S</div>
<div class="t sb" style="left:371.08000000000004px;top:698.9px;font-size:8.8px;color:#6b7a90;font-weight:400;transform:translateX(-50%);">S</div>
<div class="t sb" style="left:312.79px;top:829.1px;font-size:10.0px;color:#15935a;font-weight:400;transform:translateX(-50%);">₹1,12,480</div>
<div class="t sb" style="left:455.09000000000003px;top:680.2px;font-size:12.0px;color:#55657c;font-weight:400;transform:translateX(-50%);">May 2025</div>
<div class="t sb" style="left:394.40000000000003px;top:698.9px;font-size:8.8px;color:#6b7a90;font-weight:400;transform:translateX(-50%);">M</div>
<div class="t sb" style="left:414.23px;top:698.9px;font-size:8.8px;color:#6b7a90;font-weight:400;transform:translateX(-50%);">T</div>
<div class="t sb" style="left:434.06000000000006px;top:698.9px;font-size:8.8px;color:#6b7a90;font-weight:400;transform:translateX(-50%);">W</div>
<div class="t sb" style="left:453.89000000000004px;top:698.9px;font-size:8.8px;color:#6b7a90;font-weight:400;transform:translateX(-50%);">T</div>
<div class="t sb" style="left:473.72px;top:698.9px;font-size:8.8px;color:#6b7a90;font-weight:400;transform:translateX(-50%);">F</div>
<div class="t sb" style="left:493.55px;top:698.9px;font-size:8.8px;color:#6b7a90;font-weight:400;transform:translateX(-50%);">S</div>
<div class="t sb" style="left:513.38px;top:698.9px;font-size:8.8px;color:#6b7a90;font-weight:400;transform:translateX(-50%);">S</div>
<div class="t sb" style="left:455.09000000000003px;top:829.1px;font-size:10.0px;color:#15935a;font-weight:400;transform:translateX(-50%);">₹2,46,258</div>
<div class="t sb" style="left:597.3900000000001px;top:680.2px;font-size:12.0px;color:#55657c;font-weight:400;transform:translateX(-50%);">Jun 2025</div>
<div class="t sb" style="left:536.7px;top:698.9px;font-size:8.8px;color:#6b7a90;font-weight:400;transform:translateX(-50%);">M</div>
<div class="t sb" style="left:556.5300000000001px;top:698.9px;font-size:8.8px;color:#6b7a90;font-weight:400;transform:translateX(-50%);">T</div>
<div class="t sb" style="left:576.36px;top:698.9px;font-size:8.8px;color:#6b7a90;font-weight:400;transform:translateX(-50%);">W</div>
<div class="t sb" style="left:596.19px;top:698.9px;font-size:8.8px;color:#6b7a90;font-weight:400;transform:translateX(-50%);">T</div>
<div class="t sb" style="left:616.02px;top:698.9px;font-size:8.8px;color:#6b7a90;font-weight:400;transform:translateX(-50%);">F</div>
<div class="t sb" style="left:635.85px;top:698.9px;font-size:8.8px;color:#6b7a90;font-weight:400;transform:translateX(-50%);">S</div>
<div class="t sb" style="left:655.6800000000001px;top:698.9px;font-size:8.8px;color:#6b7a90;font-weight:400;transform:translateX(-50%);">S</div>
<div class="t sb" style="left:597.3900000000001px;top:829.1px;font-size:10.0px;color:#15935a;font-weight:400;transform:translateX(-50%);">₹5,79,460</div>
<div class="t sb" style="left:739.69px;top:680.2px;font-size:12.0px;color:#55657c;font-weight:400;transform:translateX(-50%);">Jul 2025</div>
<div class="t sb" style="left:679.0px;top:698.9px;font-size:8.8px;color:#6b7a90;font-weight:400;transform:translateX(-50%);">M</div>
<div class="t sb" style="left:698.83px;top:698.9px;font-size:8.8px;color:#6b7a90;font-weight:400;transform:translateX(-50%);">T</div>
<div class="t sb" style="left:718.66px;top:698.9px;font-size:8.8px;color:#6b7a90;font-weight:400;transform:translateX(-50%);">W</div>
<div class="t sb" style="left:738.49px;top:698.9px;font-size:8.8px;color:#6b7a90;font-weight:400;transform:translateX(-50%);">T</div>
<div class="t sb" style="left:758.3199999999999px;top:698.9px;font-size:8.8px;color:#6b7a90;font-weight:400;transform:translateX(-50%);">F</div>
<div class="t sb" style="left:778.15px;top:698.9px;font-size:8.8px;color:#6b7a90;font-weight:400;transform:translateX(-50%);">S</div>
<div class="t sb" style="left:797.98px;top:698.9px;font-size:8.8px;color:#6b7a90;font-weight:400;transform:translateX(-50%);">S</div>
<div class="t sb" style="left:739.69px;top:829.1px;font-size:10.0px;color:#e03a3a;font-weight:400;transform:translateX(-50%);">-₹1,18,300</div>
<div class="t sb" style="left:881.9900000000001px;top:680.2px;font-size:12.0px;color:#55657c;font-weight:400;transform:translateX(-50%);">Aug 2025</div>
<div class="t sb" style="left:821.3000000000001px;top:698.9px;font-size:8.8px;color:#6b7a90;font-weight:400;transform:translateX(-50%);">M</div>
<div class="t sb" style="left:841.1300000000001px;top:698.9px;font-size:8.8px;color:#6b7a90;font-weight:400;transform:translateX(-50%);">T</div>
<div class="t sb" style="left:860.96px;top:698.9px;font-size:8.8px;color:#6b7a90;font-weight:400;transform:translateX(-50%);">W</div>
<div class="t sb" style="left:880.7900000000001px;top:698.9px;font-size:8.8px;color:#6b7a90;font-weight:400;transform:translateX(-50%);">T</div>
<div class="t sb" style="left:900.6200000000001px;top:698.9px;font-size:8.8px;color:#6b7a90;font-weight:400;transform:translateX(-50%);">F</div>
<div class="t sb" style="left:920.45px;top:698.9px;font-size:8.8px;color:#6b7a90;font-weight:400;transform:translateX(-50%);">S</div>
<div class="t sb" style="left:940.2800000000001px;top:698.9px;font-size:8.8px;color:#6b7a90;font-weight:400;transform:translateX(-50%);">S</div>
<div class="t sb" style="left:881.9900000000001px;top:829.1px;font-size:10.0px;color:#15935a;font-weight:400;transform:translateX(-50%);">₹7,14,026.25</div>
<div class="t sb" style="left:1024.2900000000002px;top:680.2px;font-size:12.0px;color:#55657c;font-weight:400;transform:translateX(-50%);">Sep 2025</div>
<div class="t sb" style="left:963.6000000000001px;top:698.9px;font-size:8.8px;color:#6b7a90;font-weight:400;transform:translateX(-50%);">M</div>
<div class="t sb" style="left:983.4300000000002px;top:698.9px;font-size:8.8px;color:#6b7a90;font-weight:400;transform:translateX(-50%);">T</div>
<div class="t sb" style="left:1003.2600000000001px;top:698.9px;font-size:8.8px;color:#6b7a90;font-weight:400;transform:translateX(-50%);">W</div>
<div class="t sb" style="left:1023.0900000000001px;top:698.9px;font-size:8.8px;color:#6b7a90;font-weight:400;transform:translateX(-50%);">T</div>
<div class="t sb" style="left:1042.92px;top:698.9px;font-size:8.8px;color:#6b7a90;font-weight:400;transform:translateX(-50%);">F</div>
<div class="t sb" style="left:1062.7500000000002px;top:698.9px;font-size:8.8px;color:#6b7a90;font-weight:400;transform:translateX(-50%);">S</div>
<div class="t sb" style="left:1082.5800000000002px;top:698.9px;font-size:8.8px;color:#6b7a90;font-weight:400;transform:translateX(-50%);">S</div>
<div class="t sb" style="left:1024.2900000000002px;top:829.1px;font-size:10.0px;color:#15935a;font-weight:400;transform:translateX(-50%);">₹4,42,256.25</div>
<div class="t sb" style="left:1166.5900000000001px;top:680.2px;font-size:12.0px;color:#55657c;font-weight:400;transform:translateX(-50%);">Oct 2025</div>
<div class="t sb" style="left:1105.9px;top:698.9px;font-size:8.8px;color:#6b7a90;font-weight:400;transform:translateX(-50%);">M</div>
<div class="t sb" style="left:1125.73px;top:698.9px;font-size:8.8px;color:#6b7a90;font-weight:400;transform:translateX(-50%);">T</div>
<div class="t sb" style="left:1145.5600000000002px;top:698.9px;font-size:8.8px;color:#6b7a90;font-weight:400;transform:translateX(-50%);">W</div>
<div class="t sb" style="left:1165.39px;top:698.9px;font-size:8.8px;color:#6b7a90;font-weight:400;transform:translateX(-50%);">T</div>
<div class="t sb" style="left:1185.22px;top:698.9px;font-size:8.8px;color:#6b7a90;font-weight:400;transform:translateX(-50%);">F</div>
<div class="t sb" style="left:1205.0500000000002px;top:698.9px;font-size:8.8px;color:#6b7a90;font-weight:400;transform:translateX(-50%);">S</div>
<div class="t sb" style="left:1224.88px;top:698.9px;font-size:8.8px;color:#6b7a90;font-weight:400;transform:translateX(-50%);">S</div>
<div class="t sb" style="left:1166.5900000000001px;top:829.1px;font-size:10.0px;color:#e03a3a;font-weight:400;transform:translateX(-50%);">-₹4,913.75</div>
<div class="ttl" style="left:1292px;top:615.1px;font-size:10.75px">Recent Trades &amp; Open Positions</div><svg style="left:1466.0px;top:614.9px" width="13" height="13" viewBox="0 0 13 13"><circle cx="6.5" cy="6.5" r="5.8" fill="none" stroke="#5a6b86" stroke-width="1.2"/><circle cx="6.5" cy="4.0" r="0.75" fill="#5a6b86"/><rect x="5.9" y="5.6" width="1.2" height="3.6" rx="0.6" fill="#5a6b86"/></svg>
<div class="t sb" style="left:1306.2px;top:653.6px;font-size:13.6px;color:#f7901e;font-weight:400;">Recent Trades</div>
<div class="t sb" style="left:1422px;top:653.6px;font-size:13.9px;color:#64748b;font-weight:400;">Open Positions</div>
<div style="position:absolute;left:1291.5px;top:679.5px;width:465.5px;height:1px;background:#e8ebf0"></div>
<div style="position:absolute;left:1291.5px;top:677.5px;width:116.5px;height:2.5px;background:#f7901e;border-radius:1px"></div>
<div style="position:absolute;left:1291.5px;top:688px;width:465.5px;height:27.5px;background:#eff2f7"></div>
<div class="t " style="left:1299px;top:695.9px;font-size:10.3px;color:#111827;font-weight:700;">Close Date</div>
<div class="t " style="left:1430.6px;top:695.9px;font-size:10.3px;color:#111827;font-weight:700;">Symbol</div>
<div class="t " style="right:170.20000000000005px;top:695.9px;font-size:10.3px;color:#111827;font-weight:700;">Net P&amp;L</div>
<div class="t " style="left:1299px;top:723.5px;font-size:10.5px;color:#374151;font-weight:400;">28/10/2025</div>
<div class="t " style="left:1430.6px;top:723.5px;font-size:10.5px;color:#374151;font-weight:400;">HINDCOMPOS</div>
<div class="t " style="right:170.20000000000005px;top:723.5px;font-size:10.5px;color:#e5484d;font-weight:400;">-₹1,250</div>
<div class="t " style="left:1299px;top:751.3px;font-size:10.5px;color:#374151;font-weight:400;">11/10/2025</div>
<div class="t " style="left:1430.6px;top:751.3px;font-size:10.5px;color:#374151;font-weight:400;">RELIANCE</div>
<div class="t " style="right:170.20000000000005px;top:751.3px;font-size:10.5px;color:#e5484d;font-weight:400;">-₹20,000</div>
<div class="t " style="left:1299px;top:779.2px;font-size:10.5px;color:#374151;font-weight:400;">10/10/2025</div>
<div class="t " style="left:1430.6px;top:779.2px;font-size:10.5px;color:#374151;font-weight:400;">RELAXO</div>
<div class="t " style="right:170.20000000000005px;top:779.2px;font-size:10.5px;color:#e5484d;font-weight:400;">-₹10,000</div>
<div class="t " style="left:1299px;top:807.4px;font-size:10.5px;color:#374151;font-weight:400;">08/10/2025</div>
<div class="t " style="left:1430.6px;top:807.4px;font-size:10.5px;color:#374151;font-weight:400;">NIFTY25101425300CE</div>
<div class="t " style="right:170.20000000000005px;top:807.4px;font-size:10.5px;color:#1fa855;font-weight:400;">₹48.75</div>
<div class="t " style="left:1299px;top:835.3px;font-size:10.5px;color:#374151;font-weight:400;">08/10/2025</div>
<div class="t " style="left:1430.6px;top:835.3px;font-size:10.5px;color:#374151;font-weight:400;">NIFTY25101425000PE</div>
<div class="t " style="right:170.20000000000005px;top:835.3px;font-size:10.5px;color:#1fa855;font-weight:400;">₹60</div>
</div></div>
<div class="ovl" style="left:1477px;top:64px;width:442px;height:230px;background:linear-gradient(128deg,#ef9c5a 0%,#f3a957 10%,#f4b25d 13%,#f6c35f 21%,#f7d06a 30%,#f9db76 48%,#f9e3a0 65%,#f9e9b8 74%,#fbf3df 100%)"><div class="in">
<div class="ttl" style="left:-6.8px;top:0.4px;font-size:10.5px">Trade duration performance</div>
<svg style="left:137.9px;top:0.9px" width="13" height="13" viewBox="0 0 13 13"><circle cx="6.5" cy="6.5" r="5.8" fill="none" stroke="#5a6b86" stroke-width="1.2"/><circle cx="6.5" cy="4.0" r="0.75" fill="#5a6b86"/><rect x="5.9" y="5.6" width="1.2" height="3.6" rx="0.6" fill="#5a6b86"/></svg>
<svg style="left:0;top:0" width="422" height="210"><line x1="43" y1="106.30000000000001" x2="415" y2="106.30000000000001" stroke="#b9bfc8" stroke-width="1.2" stroke-dasharray="4 3"/><circle cx="90.8" cy="35.3" r="3.5" fill="#22c55e"/><circle cx="56.9" cy="65.3" r="3.5" fill="#22c55e"/><circle cx="60.8" cy="83.9" r="3.5" fill="#22c55e"/><circle cx="62.4" cy="92.6" r="3.5" fill="#22c55e"/><circle cx="75.2" cy="90.4" r="3.5" fill="#22c55e"/><circle cx="75.2" cy="98.7" r="3.5" fill="#22c55e"/><circle cx="90.2" cy="98.1" r="3.5" fill="#22c55e"/><circle cx="108.0" cy="94.0" r="3.5" fill="#22c55e"/><circle cx="109.6" cy="98.7" r="3.5" fill="#22c55e"/><circle cx="44.0" cy="99.0" r="3.5" fill="#22c55e"/><circle cx="48.0" cy="99.0" r="3.5" fill="#22c55e"/><circle cx="46.0" cy="100.0" r="3.5" fill="#22c55e"/><circle cx="57.0" cy="102.0" r="3.5" fill="#22c55e"/><circle cx="63.4" cy="104.0" r="3.5" fill="#22c55e"/><circle cx="69.5" cy="105.0" r="3.5" fill="#22c55e"/><circle cx="80.6" cy="103.0" r="3.5" fill="#22c55e"/><circle cx="93.4" cy="104.0" r="3.5" fill="#22c55e"/><circle cx="98.0" cy="105.0" r="3.5" fill="#22c55e"/><circle cx="106.0" cy="104.0" r="3.5" fill="#22c55e"/><circle cx="152.6" cy="96.0" r="3.5" fill="#22c55e"/><circle cx="154.3" cy="95.8" r="3.5" fill="#22c55e"/><circle cx="163.3" cy="103.3" r="3.5" fill="#22c55e"/><circle cx="170.3" cy="95.5" r="3.5" fill="#22c55e"/><circle cx="172.0" cy="104.5" r="3.5" fill="#22c55e"/><circle cx="186.8" cy="98.6" r="3.5" fill="#22c55e"/><circle cx="189.4" cy="101.5" r="3.5" fill="#22c55e"/><circle cx="192.8" cy="102.8" r="3.5" fill="#22c55e"/><circle cx="203.2" cy="94.6" r="3.5" fill="#22c55e"/><circle cx="207.6" cy="102.0" r="3.5" fill="#22c55e"/><circle cx="217.1" cy="99.3" r="3.5" fill="#22c55e"/><circle cx="218.8" cy="98.0" r="3.5" fill="#22c55e"/><circle cx="226.3" cy="101.5" r="3.5" fill="#22c55e"/><circle cx="264.3" cy="103.8" r="3.5" fill="#22c55e"/><circle cx="279.2" cy="94.1" r="3.5" fill="#22c55e"/><circle cx="282.5" cy="102.4" r="3.5" fill="#22c55e"/><circle cx="294.3" cy="91.1" r="3.5" fill="#22c55e"/><circle cx="295.6" cy="98.1" r="3.5" fill="#22c55e"/><circle cx="317.8" cy="100.7" r="3.5" fill="#22c55e"/><circle cx="374.0" cy="100.3" r="3.5" fill="#22c55e"/><circle cx="392.2" cy="101.5" r="3.5" fill="#22c55e"/><circle cx="405.6" cy="100.2" r="3.5" fill="#22c55e"/><circle cx="413.4" cy="99.8" r="3.5" fill="#22c55e"/><circle cx="43.0" cy="106.0" r="3.5" fill="#ef4444"/><circle cx="47.0" cy="107.0" r="3.5" fill="#ef4444"/><circle cx="51.0" cy="106.0" r="3.5" fill="#ef4444"/><circle cx="55.0" cy="106.0" r="3.5" fill="#ef4444"/><circle cx="59.0" cy="106.0" r="3.5" fill="#ef4444"/><circle cx="62.0" cy="107.0" r="3.5" fill="#ef4444"/><circle cx="62.4" cy="113.3" r="3.5" fill="#ef4444"/><circle cx="75.0" cy="105.0" r="3.5" fill="#ef4444"/><circle cx="75.0" cy="109.0" r="3.5" fill="#ef4444"/><circle cx="75.0" cy="113.0" r="3.5" fill="#ef4444"/><circle cx="84.7" cy="107.6" r="3.5" fill="#ef4444"/><circle cx="91.0" cy="111.7" r="3.5" fill="#ef4444"/><circle cx="92.2" cy="120.4" r="3.5" fill="#ef4444"/><circle cx="103.5" cy="107.2" r="3.5" fill="#ef4444"/><circle cx="109.0" cy="111.7" r="3.5" fill="#ef4444"/><circle cx="115.7" cy="109.7" r="3.5" fill="#ef4444"/><circle cx="57.0" cy="138.6" r="3.5" fill="#ef4444"/><circle cx="59.4" cy="179.2" r="3.5" fill="#ef4444"/><circle cx="152.6" cy="113.3" r="3.5" fill="#ef4444"/><circle cx="153.8" cy="113.2" r="3.5" fill="#ef4444"/><circle cx="156.4" cy="109.0" r="3.5" fill="#ef4444"/><circle cx="200.6" cy="109.0" r="3.5" fill="#ef4444"/></svg>
<div class="t" style="right:385.0px;top:27.1px;font-size:9.4px;color:#6b7280">₹1000K</div>
<div class="t" style="right:385.0px;top:62.9px;font-size:9.4px;color:#6b7280">₹500K</div>
<div class="t" style="right:385.0px;top:99.6px;font-size:9.4px;color:#6b7280">₹0K</div>
<div class="t" style="right:385.0px;top:135.9px;font-size:9.4px;color:#6b7280">₹-500K</div>
<div class="t" style="right:385.0px;top:172.7px;font-size:9.4px;color:#6b7280">₹-1000K</div>
<div class="t" style="left:44.0px;top:182.6px;font-size:9.4px;color:#6b7280;transform:translateX(-50%)">0 min</div>
<div class="t" style="left:136.6px;top:182.6px;font-size:9.4px;color:#6b7280;transform:translateX(-50%)">141.7 hr</div>
<div class="t" style="left:229.2px;top:182.6px;font-size:9.4px;color:#6b7280;transform:translateX(-50%)">283.3 hr</div>
<div class="t" style="left:321.7px;top:182.6px;font-size:9.4px;color:#6b7280;transform:translateX(-50%)">425.0 hr</div>
<div class="t" style="left:403.5px;top:182.6px;font-size:9.4px;color:#6b7280;transform:translateX(-50%)">566.7 hr</div>
<div class="t" style="left:229.2px;top:196.7px;font-size:9.4px;color:#7b8390;transform:translateX(-50%)">Trade Duration</div>
<div class="t" style="left:3.0px;top:81.4px;font-size:9.4px;color:#9aa1ab;transform:translateX(-50%) rotate(-90deg)">Net P&amp;L</div>
</div></div>
<div class="ovl" style="left:0px;top:615px;width:458px;height:239px;background:linear-gradient(128deg,#ef9c5a 0%,#f3a957 10%,#f4b25d 13%,#f6c35f 21%,#f7d06a 30%,#f9db76 48%,#f9e3a0 65%,#f9e9b8 74%,#fbf3df 100%)"><div class="in">
<div class="ttl" style="left:0.7px;top:0.0px;font-size:10.1px">Account balance</div>
<svg style="left:88.5px;top:0.5px" width="13" height="13" viewBox="0 0 13 13"><circle cx="6.5" cy="6.5" r="5.8" fill="none" stroke="#5a6b86" stroke-width="1.2"/><circle cx="6.5" cy="4.0" r="0.75" fill="#5a6b86"/><rect x="5.9" y="5.6" width="1.2" height="3.6" rx="0.6" fill="#5a6b86"/></svg>
<svg style="left:0;top:0" width="438" height="219"><line x1="40.5" y1="41.299999999999955" x2="429" y2="41.299999999999955" stroke="#eceef2" stroke-width="1" stroke-dasharray="2 3"/><line x1="40.5" y1="80.79999999999995" x2="429" y2="80.79999999999995" stroke="#eceef2" stroke-width="1" stroke-dasharray="2 3"/><line x1="40.5" y1="120.20000000000005" x2="429" y2="120.20000000000005" stroke="#eceef2" stroke-width="1" stroke-dasharray="2 3"/><line x1="40.5" y1="159.60000000000002" x2="429" y2="159.60000000000002" stroke="#eceef2" stroke-width="1" stroke-dasharray="2 3"/><line x1="40.7" y1="41.299999999999955" x2="40.7" y2="199" stroke="#eceef2" stroke-width="1" stroke-dasharray="2 3"/><line x1="66.6" y1="41.299999999999955" x2="66.6" y2="199" stroke="#eceef2" stroke-width="1" stroke-dasharray="2 3"/><line x1="100" y1="41.299999999999955" x2="100" y2="199" stroke="#eceef2" stroke-width="1" stroke-dasharray="2 3"/><line x1="132.3" y1="41.299999999999955" x2="132.3" y2="199" stroke="#eceef2" stroke-width="1" stroke-dasharray="2 3"/><line x1="163.2" y1="41.299999999999955" x2="163.2" y2="199" stroke="#eceef2" stroke-width="1" stroke-dasharray="2 3"/><line x1="193.4" y1="41.299999999999955" x2="193.4" y2="199" stroke="#eceef2" stroke-width="1" stroke-dasharray="2 3"/><line x1="228.6" y1="41.299999999999955" x2="228.6" y2="199" stroke="#eceef2" stroke-width="1" stroke-dasharray="2 3"/><line x1="263.5" y1="41.299999999999955" x2="263.5" y2="199" stroke="#eceef2" stroke-width="1" stroke-dasharray="2 3"/><line x1="291.3" y1="41.299999999999955" x2="291.3" y2="199" stroke="#eceef2" stroke-width="1" stroke-dasharray="2 3"/><line x1="318.5" y1="41.299999999999955" x2="318.5" y2="199" stroke="#eceef2" stroke-width="1" stroke-dasharray="2 3"/><line x1="350.7" y1="41.299999999999955" x2="350.7" y2="199" stroke="#eceef2" stroke-width="1" stroke-dasharray="2 3"/><line x1="386.6" y1="41.299999999999955" x2="386.6" y2="199" stroke="#eceef2" stroke-width="1" stroke-dasharray="2 3"/><line x1="428.7" y1="41.299999999999955" x2="428.7" y2="199" stroke="#eceef2" stroke-width="1" stroke-dasharray="2 3"/><polyline points="38.4,199.0 170.0,198.6 173.6,193.3 179.8,192.8 180.3,185.9 181.8,178.4 184.8,172.3 189.7,169.8 192.2,162.4 198.4,161.6 200.9,151.2 219.4,151.2 223.1,145.0 239.2,146.3 241.7,141.8 249.2,142.5 250.4,137.6 256.6,136.3 259.1,143.8 266.5,142.5 269.0,146.3 273.9,145.0 275.2,131.4 276.4,121.5 278.9,112.8 293.7,112.8 295.0,107.9 296.2,117.8 298.0,112.8 311.1,112.8 314.8,116.5 321.0,121.5 325.9,117.8 330.9,108.6 340.8,112.8 343.3,99.2 349.4,99.2 350.7,90.5 351.9,80.6 360.6,80.6 364.3,84.3 368.0,83.1 369.3,54.6 373.0,47.2 379.2,47.2 379.9,68.2 382.9,65.8 389.1,65.8 391.5,60.8 396.5,60.8 397.7,109.1 399.7,109.1 400.2,62.1 420.0,60.8 428.7,62.1 429.4,47.2" fill="none" stroke="#0e9868" stroke-width="2" stroke-linejoin="round" stroke-linecap="round"/><circle cx="38.4" cy="199.0" r="2.3" fill="#0e9868"/><circle cx="40.6" cy="199.0" r="2.3" fill="#0e9868"/><circle cx="42.9" cy="199.0" r="2.3" fill="#0e9868"/><circle cx="45.1" cy="199.0" r="2.3" fill="#0e9868"/><circle cx="47.3" cy="199.0" r="2.3" fill="#0e9868"/><circle cx="49.6" cy="199.0" r="2.3" fill="#0e9868"/><circle cx="51.8" cy="199.0" r="2.3" fill="#0e9868"/><circle cx="54.0" cy="199.0" r="2.3" fill="#0e9868"/><circle cx="56.2" cy="198.9" r="2.3" fill="#0e9868"/><circle cx="58.5" cy="198.9" r="2.3" fill="#0e9868"/><circle cx="60.7" cy="198.9" r="2.3" fill="#0e9868"/><circle cx="62.9" cy="198.9" r="2.3" fill="#0e9868"/><circle cx="65.2" cy="198.9" r="2.3" fill="#0e9868"/><circle cx="67.4" cy="198.9" r="2.3" fill="#0e9868"/><circle cx="69.6" cy="198.9" r="2.3" fill="#0e9868"/><circle cx="71.9" cy="198.9" r="2.3" fill="#0e9868"/><circle cx="74.1" cy="198.9" r="2.3" fill="#0e9868"/><circle cx="76.3" cy="198.9" r="2.3" fill="#0e9868"/><circle cx="78.5" cy="198.9" r="2.3" fill="#0e9868"/><circle cx="80.8" cy="198.9" r="2.3" fill="#0e9868"/><circle cx="83.0" cy="198.9" r="2.3" fill="#0e9868"/><circle cx="85.2" cy="198.9" r="2.3" fill="#0e9868"/><circle cx="87.5" cy="198.9" r="2.3" fill="#0e9868"/><circle cx="89.7" cy="198.8" r="2.3" fill="#0e9868"/><circle cx="91.9" cy="198.8" r="2.3" fill="#0e9868"/><circle cx="94.2" cy="198.8" r="2.3" fill="#0e9868"/><circle cx="96.4" cy="198.8" r="2.3" fill="#0e9868"/><circle cx="98.6" cy="198.8" r="2.3" fill="#0e9868"/><circle cx="100.9" cy="198.8" r="2.3" fill="#0e9868"/><circle cx="103.1" cy="198.8" r="2.3" fill="#0e9868"/><circle cx="105.3" cy="198.8" r="2.3" fill="#0e9868"/><circle cx="107.5" cy="198.8" r="2.3" fill="#0e9868"/><circle cx="109.8" cy="198.8" r="2.3" fill="#0e9868"/><circle cx="112.0" cy="198.8" r="2.3" fill="#0e9868"/><circle cx="114.2" cy="198.8" r="2.3" fill="#0e9868"/><circle cx="116.5" cy="198.8" r="2.3" fill="#0e9868"/><circle cx="118.7" cy="198.8" r="2.3" fill="#0e9868"/><circle cx="120.9" cy="198.7" r="2.3" fill="#0e9868"/><circle cx="123.2" cy="198.7" r="2.3" fill="#0e9868"/><circle cx="125.4" cy="198.7" r="2.3" fill="#0e9868"/><circle cx="127.6" cy="198.7" r="2.3" fill="#0e9868"/><circle cx="129.9" cy="198.7" r="2.3" fill="#0e9868"/><circle cx="132.1" cy="198.7" r="2.3" fill="#0e9868"/><circle cx="134.3" cy="198.7" r="2.3" fill="#0e9868"/><circle cx="136.5" cy="198.7" r="2.3" fill="#0e9868"/><circle cx="138.8" cy="198.7" r="2.3" fill="#0e9868"/><circle cx="141.0" cy="198.7" r="2.3" fill="#0e9868"/><circle cx="143.2" cy="198.7" r="2.3" fill="#0e9868"/><circle cx="145.5" cy="198.7" r="2.3" fill="#0e9868"/><circle cx="147.7" cy="198.7" r="2.3" fill="#0e9868"/><circle cx="149.9" cy="198.7" r="2.3" fill="#0e9868"/><circle cx="152.2" cy="198.7" r="2.3" fill="#0e9868"/><circle cx="154.4" cy="198.6" r="2.3" fill="#0e9868"/><circle cx="156.6" cy="198.6" r="2.3" fill="#0e9868"/><circle cx="158.8" cy="198.6" r="2.3" fill="#0e9868"/><circle cx="161.1" cy="198.6" r="2.3" fill="#0e9868"/><circle cx="163.3" cy="198.6" r="2.3" fill="#0e9868"/><circle cx="165.5" cy="198.6" r="2.3" fill="#0e9868"/><circle cx="167.8" cy="198.6" r="2.3" fill="#0e9868"/><circle cx="170.0" cy="198.6" r="2.3" fill="#0e9868"/><circle cx="173.6" cy="193.3" r="2.3" fill="#0e9868"/><circle cx="176.7" cy="193.0" r="2.3" fill="#0e9868"/><circle cx="179.8" cy="192.8" r="2.3" fill="#0e9868"/><circle cx="180.3" cy="185.9" r="2.3" fill="#0e9868"/><circle cx="181.8" cy="178.4" r="2.3" fill="#0e9868"/><circle cx="184.8" cy="172.3" r="2.3" fill="#0e9868"/><circle cx="187.2" cy="171.0" r="2.3" fill="#0e9868"/><circle cx="189.7" cy="169.8" r="2.3" fill="#0e9868"/><circle cx="192.2" cy="162.4" r="2.3" fill="#0e9868"/><circle cx="195.3" cy="162.0" r="2.3" fill="#0e9868"/><circle cx="198.4" cy="161.6" r="2.3" fill="#0e9868"/><circle cx="200.9" cy="151.2" r="2.3" fill="#0e9868"/><circle cx="203.2" cy="151.2" r="2.3" fill="#0e9868"/><circle cx="205.5" cy="151.2" r="2.3" fill="#0e9868"/><circle cx="207.8" cy="151.2" r="2.3" fill="#0e9868"/><circle cx="210.2" cy="151.2" r="2.3" fill="#0e9868"/><circle cx="212.5" cy="151.2" r="2.3" fill="#0e9868"/><circle cx="214.8" cy="151.2" r="2.3" fill="#0e9868"/><circle cx="217.1" cy="151.2" r="2.3" fill="#0e9868"/><circle cx="219.4" cy="151.2" r="2.3" fill="#0e9868"/><circle cx="223.1" cy="145.0" r="2.3" fill="#0e9868"/><circle cx="225.4" cy="145.2" r="2.3" fill="#0e9868"/><circle cx="227.7" cy="145.4" r="2.3" fill="#0e9868"/><circle cx="230.0" cy="145.6" r="2.3" fill="#0e9868"/><circle cx="232.3" cy="145.7" r="2.3" fill="#0e9868"/><circle cx="234.6" cy="145.9" r="2.3" fill="#0e9868"/><circle cx="236.9" cy="146.1" r="2.3" fill="#0e9868"/><circle cx="239.2" cy="146.3" r="2.3" fill="#0e9868"/><circle cx="241.7" cy="141.8" r="2.3" fill="#0e9868"/><circle cx="244.2" cy="142.0" r="2.3" fill="#0e9868"/><circle cx="246.7" cy="142.3" r="2.3" fill="#0e9868"/><circle cx="249.2" cy="142.5" r="2.3" fill="#0e9868"/><circle cx="250.4" cy="137.6" r="2.3" fill="#0e9868"/><circle cx="253.5" cy="137.0" r="2.3" fill="#0e9868"/><circle cx="256.6" cy="136.3" r="2.3" fill="#0e9868"/><circle cx="259.1" cy="143.8" r="2.3" fill="#0e9868"/><circle cx="261.6" cy="143.4" r="2.3" fill="#0e9868"/><circle cx="264.0" cy="142.9" r="2.3" fill="#0e9868"/><circle cx="266.5" cy="142.5" r="2.3" fill="#0e9868"/><circle cx="269.0" cy="146.3" r="2.3" fill="#0e9868"/><circle cx="271.4" cy="145.6" r="2.3" fill="#0e9868"/><circle cx="273.9" cy="145.0" r="2.3" fill="#0e9868"/><circle cx="275.2" cy="131.4" r="2.3" fill="#0e9868"/><circle cx="276.4" cy="121.5" r="2.3" fill="#0e9868"/><circle cx="278.9" cy="112.8" r="2.3" fill="#0e9868"/><circle cx="281.4" cy="112.8" r="2.3" fill="#0e9868"/><circle cx="283.8" cy="112.8" r="2.3" fill="#0e9868"/><circle cx="286.3" cy="112.8" r="2.3" fill="#0e9868"/><circle cx="288.8" cy="112.8" r="2.3" fill="#0e9868"/><circle cx="291.2" cy="112.8" r="2.3" fill="#0e9868"/><circle cx="293.7" cy="112.8" r="2.3" fill="#0e9868"/><circle cx="295.0" cy="107.9" r="2.3" fill="#0e9868"/><circle cx="296.2" cy="117.8" r="2.3" fill="#0e9868"/><circle cx="298.0" cy="112.8" r="2.3" fill="#0e9868"/><circle cx="300.6" cy="112.8" r="2.3" fill="#0e9868"/><circle cx="303.2" cy="112.8" r="2.3" fill="#0e9868"/><circle cx="305.9" cy="112.8" r="2.3" fill="#0e9868"/><circle cx="308.5" cy="112.8" r="2.3" fill="#0e9868"/><circle cx="311.1" cy="112.8" r="2.3" fill="#0e9868"/><circle cx="313.0" cy="114.6" r="2.3" fill="#0e9868"/><circle cx="314.8" cy="116.5" r="2.3" fill="#0e9868"/><circle cx="316.9" cy="118.2" r="2.3" fill="#0e9868"/><circle cx="318.9" cy="119.8" r="2.3" fill="#0e9868"/><circle cx="321.0" cy="121.5" r="2.3" fill="#0e9868"/><circle cx="323.4" cy="119.6" r="2.3" fill="#0e9868"/><circle cx="325.9" cy="117.8" r="2.3" fill="#0e9868"/><circle cx="330.9" cy="108.6" r="2.3" fill="#0e9868"/><circle cx="333.4" cy="109.6" r="2.3" fill="#0e9868"/><circle cx="335.9" cy="110.7" r="2.3" fill="#0e9868"/><circle cx="338.3" cy="111.8" r="2.3" fill="#0e9868"/><circle cx="340.8" cy="112.8" r="2.3" fill="#0e9868"/><circle cx="343.3" cy="99.2" r="2.3" fill="#0e9868"/><circle cx="346.4" cy="99.2" r="2.3" fill="#0e9868"/><circle cx="349.4" cy="99.2" r="2.3" fill="#0e9868"/><circle cx="350.7" cy="90.5" r="2.3" fill="#0e9868"/><circle cx="351.9" cy="80.6" r="2.3" fill="#0e9868"/><circle cx="354.8" cy="80.6" r="2.3" fill="#0e9868"/><circle cx="357.7" cy="80.6" r="2.3" fill="#0e9868"/><circle cx="360.6" cy="80.6" r="2.3" fill="#0e9868"/><circle cx="362.5" cy="82.5" r="2.3" fill="#0e9868"/><circle cx="364.3" cy="84.3" r="2.3" fill="#0e9868"/><circle cx="368.0" cy="83.1" r="2.3" fill="#0e9868"/><circle cx="369.3" cy="54.6" r="2.3" fill="#0e9868"/><circle cx="373.0" cy="47.2" r="2.3" fill="#0e9868"/><circle cx="376.1" cy="47.2" r="2.3" fill="#0e9868"/><circle cx="379.2" cy="47.2" r="2.3" fill="#0e9868"/><circle cx="379.9" cy="68.2" r="2.3" fill="#0e9868"/><circle cx="382.9" cy="65.8" r="2.3" fill="#0e9868"/><circle cx="386.0" cy="65.8" r="2.3" fill="#0e9868"/><circle cx="389.1" cy="65.8" r="2.3" fill="#0e9868"/><circle cx="391.5" cy="60.8" r="2.3" fill="#0e9868"/><circle cx="394.0" cy="60.8" r="2.3" fill="#0e9868"/><circle cx="396.5" cy="60.8" r="2.3" fill="#0e9868"/><circle cx="397.7" cy="109.1" r="2.3" fill="#0e9868"/><circle cx="399.7" cy="109.1" r="2.3" fill="#0e9868"/><circle cx="400.2" cy="62.1" r="2.3" fill="#0e9868"/><circle cx="402.4" cy="62.0" r="2.3" fill="#0e9868"/><circle cx="404.6" cy="61.8" r="2.3" fill="#0e9868"/><circle cx="406.8" cy="61.7" r="2.3" fill="#0e9868"/><circle cx="409.0" cy="61.5" r="2.3" fill="#0e9868"/><circle cx="411.2" cy="61.4" r="2.3" fill="#0e9868"/><circle cx="413.4" cy="61.2" r="2.3" fill="#0e9868"/><circle cx="415.6" cy="61.1" r="2.3" fill="#0e9868"/><circle cx="417.8" cy="60.9" r="2.3" fill="#0e9868"/><circle cx="420.0" cy="60.8" r="2.3" fill="#0e9868"/><circle cx="422.9" cy="61.2" r="2.3" fill="#0e9868"/><circle cx="425.8" cy="61.7" r="2.3" fill="#0e9868"/><circle cx="428.7" cy="62.1" r="2.3" fill="#0e9868"/><circle cx="429.4" cy="47.2" r="2.3" fill="#0e9868"/></svg>
<div class="t" style="right:403.8px;top:34.4px;font-size:9.0px;color:#4b5563">₹3200K</div>
<div class="t" style="right:403.8px;top:73.9px;font-size:9.0px;color:#4b5563">₹2400K</div>
<div class="t" style="right:403.8px;top:113.3px;font-size:9.0px;color:#4b5563">₹1600K</div>
<div class="t" style="right:403.8px;top:152.7px;font-size:9.0px;color:#4b5563">₹800K</div>
<div class="t" style="right:403.8px;top:192.2px;font-size:9.0px;color:#4b5563">₹0K</div>
<div class="t" style="left:66.6px;top:202.7px;font-size:9.0px;color:#4b5563;transform:translateX(-50%)">19 Jan</div>
<div class="t" style="left:99.9px;top:202.7px;font-size:9.0px;color:#4b5563;transform:translateX(-50%)">13 Feb</div>
<div class="t" style="left:132.3px;top:202.7px;font-size:9.0px;color:#4b5563;transform:translateX(-50%)">9 Mar</div>
<div class="t" style="left:163.2px;top:202.7px;font-size:9.0px;color:#4b5563;transform:translateX(-50%)">1 Apr</div>
<div class="t" style="left:193.4px;top:202.7px;font-size:9.0px;color:#4b5563;transform:translateX(-50%)">24 Apr</div>
<div class="t" style="left:228.6px;top:202.7px;font-size:9.0px;color:#4b5563;transform:translateX(-50%)">20 May</div>
<div class="t" style="left:263.5px;top:202.7px;font-size:9.0px;color:#4b5563;transform:translateX(-50%)">15 Jun</div>
<div class="t" style="left:291.3px;top:202.7px;font-size:9.0px;color:#4b5563;transform:translateX(-50%)">6 Jul</div>
<div class="t" style="left:318.5px;top:202.7px;font-size:9.0px;color:#4b5563;transform:translateX(-50%)">26 Jul</div>
<div class="t" style="left:350.7px;top:202.7px;font-size:9.0px;color:#4b5563;transform:translateX(-50%)">19 Aug</div>
<div class="t" style="left:386.6px;top:202.7px;font-size:9.0px;color:#4b5563;transform:translateX(-50%)">15 Sept</div>
<div class="t" style="left:422.0px;top:202.7px;font-size:9.0px;color:#4b5563;transform:translateX(-50%)">17 Oct</div>
</div></div>
</body></html>
